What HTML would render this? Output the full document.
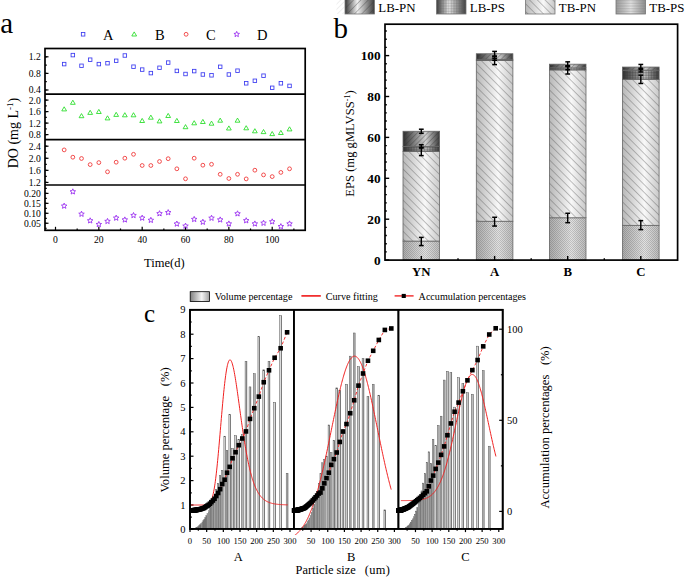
<!DOCTYPE html>
<html><head><meta charset="utf-8"><style>
html,body{margin:0;padding:0;background:#fff;}
svg{display:block;}
text{font-family:"Liberation Serif", serif;fill:#000;}
</style></head><body>
<svg width="685" height="578" viewBox="0 0 685 578">
<defs>
<linearGradient id="gL" x1="0" x2="1" y1="0" y2="0">
 <stop offset="0" stop-color="#b8b8b8"/><stop offset="0.6" stop-color="#f8f8f8"/><stop offset="1" stop-color="#c8c8c8"/></linearGradient>
<linearGradient id="gD" x1="0" x2="1" y1="0" y2="0">
 <stop offset="0" stop-color="#2e2e2e"/><stop offset="0.62" stop-color="#d0d0d0"/><stop offset="1" stop-color="#3a3a3a"/></linearGradient>
<linearGradient id="gV" x1="0" x2="1" y1="0" y2="0">
 <stop offset="0" stop-color="#808080"/><stop offset="0.6" stop-color="#f4f4f4"/><stop offset="1" stop-color="#a0a0a0"/></linearGradient>
<linearGradient id="gBar" x1="0" x2="1" y1="0" y2="0">
 <stop offset="0" stop-color="#a8a8a8"/><stop offset="0.4" stop-color="#e0e0e0"/><stop offset="0.72" stop-color="#a0a0a0"/><stop offset="1" stop-color="#505050"/></linearGradient>
<pattern id="pTBPN" width="5.5" height="5.5" patternUnits="userSpaceOnUse" patternTransform="rotate(-45)">
 <line x1="0" y1="0" x2="0" y2="5.5" stroke="#3a3a3a" stroke-width="0.6"/></pattern>
<pattern id="pLBPN" width="3.7" height="3.7" patternUnits="userSpaceOnUse" patternTransform="rotate(45)">
 <line x1="0" y1="0" x2="0" y2="3.7" stroke="#2a2a2a" stroke-width="0.6"/></pattern>
<pattern id="pLBPS" width="1.6" height="1.6" patternUnits="userSpaceOnUse">
 <path d="M0 0H1.6M0 0V1.6" stroke="#333" stroke-width="0.55" fill="none"/></pattern>
<pattern id="pTBPS" width="2" height="2" patternUnits="userSpaceOnUse">
 <rect x="0" y="0" width="1" height="1" fill="#000" fill-opacity="0.15"/><rect x="1" y="1" width="1" height="1" fill="#000" fill-opacity="0.15"/></pattern>
<linearGradient id="gS" x1="0" x2="1" y1="0" y2="0">
 <stop offset="0" stop-color="#acacac"/><stop offset="0.6" stop-color="#e2e2e2"/><stop offset="1" stop-color="#bcbcbc"/></linearGradient>
<linearGradient id="gLegD" x1="0" x2="1" y1="0" y2="0">
 <stop offset="0" stop-color="#383838"/><stop offset="0.42" stop-color="#f0f0f0"/><stop offset="1" stop-color="#3c3c3c"/></linearGradient>
<linearGradient id="gLegS" x1="0" x2="1" y1="0" y2="0">
 <stop offset="0" stop-color="#9a9a9a"/><stop offset="0.5" stop-color="#e4e4e4"/><stop offset="1" stop-color="#8e8e8e"/></linearGradient>
<pattern id="pLBPNl" width="5.2" height="5.2" patternUnits="userSpaceOnUse" patternTransform="rotate(45)">
 <line x1="0" y1="0" x2="0" y2="5.2" stroke="#333" stroke-width="0.6"/></pattern>
<pattern id="pLBPSl" width="1.6" height="1.6" patternUnits="userSpaceOnUse">
 <path d="M0 0H1.6M0 0V1.6" stroke="#555" stroke-width="0.35" fill="none"/></pattern>
<pattern id="pHl" width="2" height="1.6" patternUnits="userSpaceOnUse">
 <line x1="0" y1="0" x2="2" y2="0" stroke="#777" stroke-width="0.5"/></pattern>
<pattern id="pFaint" width="3.7" height="3.7" patternUnits="userSpaceOnUse" patternTransform="rotate(45)">
 <line x1="0" y1="0" x2="0" y2="3.7" stroke="#ccc" stroke-width="0.6"/></pattern>
</defs>
<line x1="45.00" y1="56.80" x2="46.80" y2="56.80" stroke="#000" stroke-width="1.2" />
<line x1="45.00" y1="65.10" x2="46.80" y2="65.10" stroke="#000" stroke-width="1.2" />
<line x1="45.00" y1="73.40" x2="46.80" y2="73.40" stroke="#000" stroke-width="1.2" />
<line x1="45.00" y1="81.70" x2="46.80" y2="81.70" stroke="#000" stroke-width="1.2" />
<line x1="45.00" y1="90.00" x2="46.80" y2="90.00" stroke="#000" stroke-width="1.2" />
<line x1="45.00" y1="56.80" x2="48.50" y2="56.80" stroke="#000" stroke-width="1.2" />
<text x="40.80" y="60.20" font-size="9.6" text-anchor="end" font-weight="normal" >1.2</text>
<line x1="45.00" y1="73.40" x2="48.50" y2="73.40" stroke="#000" stroke-width="1.2" />
<text x="40.80" y="76.80" font-size="9.6" text-anchor="end" font-weight="normal" >0.8</text>
<line x1="45.00" y1="90.00" x2="48.50" y2="90.00" stroke="#000" stroke-width="1.2" />
<text x="40.80" y="93.40" font-size="9.6" text-anchor="end" font-weight="normal" >0.4</text>
<line x1="45.00" y1="100.10" x2="46.80" y2="100.10" stroke="#000" stroke-width="1.2" />
<line x1="45.00" y1="105.85" x2="46.80" y2="105.85" stroke="#000" stroke-width="1.2" />
<line x1="45.00" y1="111.60" x2="46.80" y2="111.60" stroke="#000" stroke-width="1.2" />
<line x1="45.00" y1="117.35" x2="46.80" y2="117.35" stroke="#000" stroke-width="1.2" />
<line x1="45.00" y1="123.10" x2="46.80" y2="123.10" stroke="#000" stroke-width="1.2" />
<line x1="45.00" y1="128.85" x2="46.80" y2="128.85" stroke="#000" stroke-width="1.2" />
<line x1="45.00" y1="134.60" x2="46.80" y2="134.60" stroke="#000" stroke-width="1.2" />
<line x1="45.00" y1="100.10" x2="48.50" y2="100.10" stroke="#000" stroke-width="1.2" />
<text x="40.80" y="103.50" font-size="9.6" text-anchor="end" font-weight="normal" >2.0</text>
<line x1="45.00" y1="111.60" x2="48.50" y2="111.60" stroke="#000" stroke-width="1.2" />
<text x="40.80" y="115.00" font-size="9.6" text-anchor="end" font-weight="normal" >1.6</text>
<line x1="45.00" y1="123.10" x2="48.50" y2="123.10" stroke="#000" stroke-width="1.2" />
<text x="40.80" y="126.50" font-size="9.6" text-anchor="end" font-weight="normal" >1.2</text>
<line x1="45.00" y1="134.60" x2="48.50" y2="134.60" stroke="#000" stroke-width="1.2" />
<text x="40.80" y="138.00" font-size="9.6" text-anchor="end" font-weight="normal" >0.8</text>
<line x1="45.00" y1="146.20" x2="46.80" y2="146.20" stroke="#000" stroke-width="1.2" />
<line x1="45.00" y1="152.24" x2="46.80" y2="152.24" stroke="#000" stroke-width="1.2" />
<line x1="45.00" y1="158.28" x2="46.80" y2="158.28" stroke="#000" stroke-width="1.2" />
<line x1="45.00" y1="164.32" x2="46.80" y2="164.32" stroke="#000" stroke-width="1.2" />
<line x1="45.00" y1="170.36" x2="46.80" y2="170.36" stroke="#000" stroke-width="1.2" />
<line x1="45.00" y1="176.40" x2="46.80" y2="176.40" stroke="#000" stroke-width="1.2" />
<line x1="45.00" y1="182.44" x2="46.80" y2="182.44" stroke="#000" stroke-width="1.2" />
<line x1="45.00" y1="146.20" x2="48.50" y2="146.20" stroke="#000" stroke-width="1.2" />
<text x="40.80" y="149.60" font-size="9.6" text-anchor="end" font-weight="normal" >2.4</text>
<line x1="45.00" y1="158.28" x2="48.50" y2="158.28" stroke="#000" stroke-width="1.2" />
<text x="40.80" y="161.68" font-size="9.6" text-anchor="end" font-weight="normal" >2.0</text>
<line x1="45.00" y1="170.36" x2="48.50" y2="170.36" stroke="#000" stroke-width="1.2" />
<text x="40.80" y="173.76" font-size="9.6" text-anchor="end" font-weight="normal" >1.6</text>
<line x1="45.00" y1="182.44" x2="48.50" y2="182.44" stroke="#000" stroke-width="1.2" />
<text x="40.80" y="185.84" font-size="9.6" text-anchor="end" font-weight="normal" >1.2</text>
<line x1="45.00" y1="188.43" x2="46.80" y2="188.43" stroke="#000" stroke-width="1.2" />
<line x1="45.00" y1="193.40" x2="46.80" y2="193.40" stroke="#000" stroke-width="1.2" />
<line x1="45.00" y1="198.38" x2="46.80" y2="198.38" stroke="#000" stroke-width="1.2" />
<line x1="45.00" y1="203.35" x2="46.80" y2="203.35" stroke="#000" stroke-width="1.2" />
<line x1="45.00" y1="208.33" x2="46.80" y2="208.33" stroke="#000" stroke-width="1.2" />
<line x1="45.00" y1="213.30" x2="46.80" y2="213.30" stroke="#000" stroke-width="1.2" />
<line x1="45.00" y1="218.28" x2="46.80" y2="218.28" stroke="#000" stroke-width="1.2" />
<line x1="45.00" y1="223.25" x2="46.80" y2="223.25" stroke="#000" stroke-width="1.2" />
<line x1="45.00" y1="228.23" x2="46.80" y2="228.23" stroke="#000" stroke-width="1.2" />
<line x1="45.00" y1="193.40" x2="48.50" y2="193.40" stroke="#000" stroke-width="1.2" />
<text x="40.80" y="196.80" font-size="9.6" text-anchor="end" font-weight="normal" >0.20</text>
<line x1="45.00" y1="203.35" x2="48.50" y2="203.35" stroke="#000" stroke-width="1.2" />
<text x="40.80" y="206.75" font-size="9.6" text-anchor="end" font-weight="normal" >0.15</text>
<line x1="45.00" y1="213.30" x2="48.50" y2="213.30" stroke="#000" stroke-width="1.2" />
<text x="40.80" y="216.70" font-size="9.6" text-anchor="end" font-weight="normal" >0.10</text>
<line x1="45.00" y1="223.25" x2="48.50" y2="223.25" stroke="#000" stroke-width="1.2" />
<text x="40.80" y="226.65" font-size="9.6" text-anchor="end" font-weight="normal" >0.05</text>
<line x1="55.50" y1="230.30" x2="55.50" y2="226.80" stroke="#000" stroke-width="1.2" />
<text x="55.50" y="243.20" font-size="9.6" text-anchor="middle" font-weight="normal" >0</text>
<line x1="77.17" y1="230.30" x2="77.17" y2="228.50" stroke="#000" stroke-width="1.2" />
<line x1="98.84" y1="230.30" x2="98.84" y2="226.80" stroke="#000" stroke-width="1.2" />
<text x="98.84" y="243.20" font-size="9.6" text-anchor="middle" font-weight="normal" >20</text>
<line x1="120.51" y1="230.30" x2="120.51" y2="228.50" stroke="#000" stroke-width="1.2" />
<line x1="142.18" y1="230.30" x2="142.18" y2="226.80" stroke="#000" stroke-width="1.2" />
<text x="142.18" y="243.20" font-size="9.6" text-anchor="middle" font-weight="normal" >40</text>
<line x1="163.85" y1="230.30" x2="163.85" y2="228.50" stroke="#000" stroke-width="1.2" />
<line x1="185.52" y1="230.30" x2="185.52" y2="226.80" stroke="#000" stroke-width="1.2" />
<text x="185.52" y="243.20" font-size="9.6" text-anchor="middle" font-weight="normal" >60</text>
<line x1="207.19" y1="230.30" x2="207.19" y2="228.50" stroke="#000" stroke-width="1.2" />
<line x1="228.86" y1="230.30" x2="228.86" y2="226.80" stroke="#000" stroke-width="1.2" />
<text x="228.86" y="243.20" font-size="9.6" text-anchor="middle" font-weight="normal" >80</text>
<line x1="250.53" y1="230.30" x2="250.53" y2="228.50" stroke="#000" stroke-width="1.2" />
<line x1="272.20" y1="230.30" x2="272.20" y2="226.80" stroke="#000" stroke-width="1.2" />
<text x="272.20" y="243.20" font-size="9.6" text-anchor="middle" font-weight="normal" >100</text>
<line x1="293.87" y1="230.30" x2="293.87" y2="228.50" stroke="#000" stroke-width="1.2" />
<rect x="45.0" y="48.5" width="260.2" height="181.8" fill="none" stroke="#000" stroke-width="1.7"/>
<line x1="45.00" y1="94.10" x2="305.20" y2="94.10" stroke="#000" stroke-width="1.7" />
<line x1="45.00" y1="139.70" x2="305.20" y2="139.70" stroke="#000" stroke-width="1.7" />
<line x1="45.00" y1="185.00" x2="305.20" y2="185.00" stroke="#000" stroke-width="1.7" />
<rect x="62.42" y="62.35" width="3.5" height="3.5" fill="none" stroke="#3b3bf0" stroke-width="0.85"/>
<rect x="71.09" y="53.35" width="3.5" height="3.5" fill="none" stroke="#3b3bf0" stroke-width="0.85"/>
<rect x="79.75" y="64.05" width="3.5" height="3.5" fill="none" stroke="#3b3bf0" stroke-width="0.85"/>
<rect x="88.42" y="57.95" width="3.5" height="3.5" fill="none" stroke="#3b3bf0" stroke-width="0.85"/>
<rect x="97.09" y="62.35" width="3.5" height="3.5" fill="none" stroke="#3b3bf0" stroke-width="0.85"/>
<rect x="105.76" y="61.45" width="3.5" height="3.5" fill="none" stroke="#3b3bf0" stroke-width="0.85"/>
<rect x="114.43" y="59.05" width="3.5" height="3.5" fill="none" stroke="#3b3bf0" stroke-width="0.85"/>
<rect x="123.09" y="53.75" width="3.5" height="3.5" fill="none" stroke="#3b3bf0" stroke-width="0.85"/>
<rect x="131.76" y="64.95" width="3.5" height="3.5" fill="none" stroke="#3b3bf0" stroke-width="0.85"/>
<rect x="140.43" y="67.85" width="3.5" height="3.5" fill="none" stroke="#3b3bf0" stroke-width="0.85"/>
<rect x="149.10" y="71.35" width="3.5" height="3.5" fill="none" stroke="#3b3bf0" stroke-width="0.85"/>
<rect x="157.77" y="66.05" width="3.5" height="3.5" fill="none" stroke="#3b3bf0" stroke-width="0.85"/>
<rect x="166.43" y="60.85" width="3.5" height="3.5" fill="none" stroke="#3b3bf0" stroke-width="0.85"/>
<rect x="175.10" y="69.15" width="3.5" height="3.5" fill="none" stroke="#3b3bf0" stroke-width="0.85"/>
<rect x="183.77" y="72.25" width="3.5" height="3.5" fill="none" stroke="#3b3bf0" stroke-width="0.85"/>
<rect x="192.44" y="69.35" width="3.5" height="3.5" fill="none" stroke="#3b3bf0" stroke-width="0.85"/>
<rect x="201.11" y="72.75" width="3.5" height="3.5" fill="none" stroke="#3b3bf0" stroke-width="0.85"/>
<rect x="209.77" y="73.55" width="3.5" height="3.5" fill="none" stroke="#3b3bf0" stroke-width="0.85"/>
<rect x="218.44" y="65.05" width="3.5" height="3.5" fill="none" stroke="#3b3bf0" stroke-width="0.85"/>
<rect x="227.11" y="72.75" width="3.5" height="3.5" fill="none" stroke="#3b3bf0" stroke-width="0.85"/>
<rect x="235.78" y="68.95" width="3.5" height="3.5" fill="none" stroke="#3b3bf0" stroke-width="0.85"/>
<rect x="244.45" y="81.55" width="3.5" height="3.5" fill="none" stroke="#3b3bf0" stroke-width="0.85"/>
<rect x="253.11" y="79.05" width="3.5" height="3.5" fill="none" stroke="#3b3bf0" stroke-width="0.85"/>
<rect x="261.78" y="73.95" width="3.5" height="3.5" fill="none" stroke="#3b3bf0" stroke-width="0.85"/>
<rect x="270.45" y="86.05" width="3.5" height="3.5" fill="none" stroke="#3b3bf0" stroke-width="0.85"/>
<rect x="279.12" y="81.55" width="3.5" height="3.5" fill="none" stroke="#3b3bf0" stroke-width="0.85"/>
<rect x="287.79" y="84.15" width="3.5" height="3.5" fill="none" stroke="#3b3bf0" stroke-width="0.85"/>
<path d="M64.17 106.80L66.57 110.90L61.77 110.90Z" fill="none" stroke="#22dd22" stroke-width="0.85"/>
<path d="M72.84 100.20L75.24 104.30L70.44 104.30Z" fill="none" stroke="#22dd22" stroke-width="0.85"/>
<path d="M81.50 113.60L83.90 117.70L79.10 117.70Z" fill="none" stroke="#22dd22" stroke-width="0.85"/>
<path d="M90.17 110.30L92.57 114.40L87.77 114.40Z" fill="none" stroke="#22dd22" stroke-width="0.85"/>
<path d="M98.84 109.40L101.24 113.50L96.44 113.50Z" fill="none" stroke="#22dd22" stroke-width="0.85"/>
<path d="M107.51 115.80L109.91 119.90L105.11 119.90Z" fill="none" stroke="#22dd22" stroke-width="0.85"/>
<path d="M116.18 112.30L118.58 116.40L113.78 116.40Z" fill="none" stroke="#22dd22" stroke-width="0.85"/>
<path d="M124.84 112.70L127.24 116.80L122.44 116.80Z" fill="none" stroke="#22dd22" stroke-width="0.85"/>
<path d="M133.51 112.70L135.91 116.80L131.11 116.80Z" fill="none" stroke="#22dd22" stroke-width="0.85"/>
<path d="M142.18 118.40L144.58 122.50L139.78 122.50Z" fill="none" stroke="#22dd22" stroke-width="0.85"/>
<path d="M150.85 115.10L153.25 119.20L148.45 119.20Z" fill="none" stroke="#22dd22" stroke-width="0.85"/>
<path d="M159.52 118.80L161.92 122.90L157.12 122.90Z" fill="none" stroke="#22dd22" stroke-width="0.85"/>
<path d="M168.18 113.40L170.58 117.50L165.78 117.50Z" fill="none" stroke="#22dd22" stroke-width="0.85"/>
<path d="M176.85 118.40L179.25 122.50L174.45 122.50Z" fill="none" stroke="#22dd22" stroke-width="0.85"/>
<path d="M185.52 124.60L187.92 128.70L183.12 128.70Z" fill="none" stroke="#22dd22" stroke-width="0.85"/>
<path d="M194.19 120.70L196.59 124.80L191.79 124.80Z" fill="none" stroke="#22dd22" stroke-width="0.85"/>
<path d="M202.86 119.40L205.26 123.50L200.46 123.50Z" fill="none" stroke="#22dd22" stroke-width="0.85"/>
<path d="M211.52 121.10L213.92 125.20L209.12 125.20Z" fill="none" stroke="#22dd22" stroke-width="0.85"/>
<path d="M220.19 118.10L222.59 122.20L217.79 122.20Z" fill="none" stroke="#22dd22" stroke-width="0.85"/>
<path d="M228.86 125.90L231.26 130.00L226.46 130.00Z" fill="none" stroke="#22dd22" stroke-width="0.85"/>
<path d="M237.53 118.10L239.93 122.20L235.13 122.20Z" fill="none" stroke="#22dd22" stroke-width="0.85"/>
<path d="M246.20 125.70L248.60 129.80L243.80 129.80Z" fill="none" stroke="#22dd22" stroke-width="0.85"/>
<path d="M254.86 128.70L257.26 132.80L252.46 132.80Z" fill="none" stroke="#22dd22" stroke-width="0.85"/>
<path d="M263.53 129.50L265.93 133.60L261.13 133.60Z" fill="none" stroke="#22dd22" stroke-width="0.85"/>
<path d="M272.20 131.50L274.60 135.60L269.80 135.60Z" fill="none" stroke="#22dd22" stroke-width="0.85"/>
<path d="M280.87 130.40L283.27 134.50L278.47 134.50Z" fill="none" stroke="#22dd22" stroke-width="0.85"/>
<path d="M289.54 126.80L291.94 130.90L287.14 130.90Z" fill="none" stroke="#22dd22" stroke-width="0.85"/>
<circle cx="64.17" cy="149.90" r="1.9" fill="none" stroke="#f03030" stroke-width="0.85"/>
<circle cx="72.84" cy="157.20" r="1.9" fill="none" stroke="#f03030" stroke-width="0.85"/>
<circle cx="81.50" cy="158.50" r="1.9" fill="none" stroke="#f03030" stroke-width="0.85"/>
<circle cx="90.17" cy="164.60" r="1.9" fill="none" stroke="#f03030" stroke-width="0.85"/>
<circle cx="98.84" cy="162.60" r="1.9" fill="none" stroke="#f03030" stroke-width="0.85"/>
<circle cx="107.51" cy="171.80" r="1.9" fill="none" stroke="#f03030" stroke-width="0.85"/>
<circle cx="116.18" cy="162.20" r="1.9" fill="none" stroke="#f03030" stroke-width="0.85"/>
<circle cx="124.84" cy="158.20" r="1.9" fill="none" stroke="#f03030" stroke-width="0.85"/>
<circle cx="133.51" cy="154.30" r="1.9" fill="none" stroke="#f03030" stroke-width="0.85"/>
<circle cx="142.18" cy="165.50" r="1.9" fill="none" stroke="#f03030" stroke-width="0.85"/>
<circle cx="150.85" cy="165.50" r="1.9" fill="none" stroke="#f03030" stroke-width="0.85"/>
<circle cx="159.52" cy="161.50" r="1.9" fill="none" stroke="#f03030" stroke-width="0.85"/>
<circle cx="168.18" cy="158.70" r="1.9" fill="none" stroke="#f03030" stroke-width="0.85"/>
<circle cx="176.85" cy="168.80" r="1.9" fill="none" stroke="#f03030" stroke-width="0.85"/>
<circle cx="185.52" cy="178.80" r="1.9" fill="none" stroke="#f03030" stroke-width="0.85"/>
<circle cx="194.19" cy="158.20" r="1.9" fill="none" stroke="#f03030" stroke-width="0.85"/>
<circle cx="202.86" cy="165.20" r="1.9" fill="none" stroke="#f03030" stroke-width="0.85"/>
<circle cx="211.52" cy="164.30" r="1.9" fill="none" stroke="#f03030" stroke-width="0.85"/>
<circle cx="220.19" cy="174.30" r="1.9" fill="none" stroke="#f03030" stroke-width="0.85"/>
<circle cx="228.86" cy="178.50" r="1.9" fill="none" stroke="#f03030" stroke-width="0.85"/>
<circle cx="237.53" cy="174.30" r="1.9" fill="none" stroke="#f03030" stroke-width="0.85"/>
<circle cx="246.20" cy="178.90" r="1.9" fill="none" stroke="#f03030" stroke-width="0.85"/>
<circle cx="254.86" cy="170.20" r="1.9" fill="none" stroke="#f03030" stroke-width="0.85"/>
<circle cx="263.53" cy="174.90" r="1.9" fill="none" stroke="#f03030" stroke-width="0.85"/>
<circle cx="272.20" cy="176.60" r="1.9" fill="none" stroke="#f03030" stroke-width="0.85"/>
<circle cx="280.87" cy="172.40" r="1.9" fill="none" stroke="#f03030" stroke-width="0.85"/>
<circle cx="289.54" cy="168.80" r="1.9" fill="none" stroke="#f03030" stroke-width="0.85"/>
<polygon points="64.17,203.10 64.93,204.95 66.93,205.10 65.40,206.40 65.87,208.35 64.17,207.30 62.46,208.35 62.93,206.40 61.41,205.10 63.40,204.95" fill="none" stroke="#9b30f0" stroke-width="0.9"/>
<polygon points="72.84,188.80 73.60,190.65 75.59,190.80 74.07,192.10 74.54,194.05 72.84,193.00 71.13,194.05 71.60,192.10 70.08,190.80 72.07,190.65" fill="none" stroke="#9b30f0" stroke-width="0.9"/>
<polygon points="81.50,211.20 82.27,213.05 84.26,213.20 82.74,214.50 83.21,216.45 81.50,215.40 79.80,216.45 80.27,214.50 78.75,213.20 80.74,213.05" fill="none" stroke="#9b30f0" stroke-width="0.9"/>
<polygon points="90.17,217.80 90.94,219.65 92.93,219.80 91.41,221.10 91.88,223.05 90.17,222.00 88.47,223.05 88.94,221.10 87.41,219.80 89.41,219.65" fill="none" stroke="#9b30f0" stroke-width="0.9"/>
<polygon points="98.84,221.50 99.60,223.35 101.60,223.50 100.08,224.80 100.54,226.75 98.84,225.70 97.14,226.75 97.60,224.80 96.08,223.50 98.08,223.35" fill="none" stroke="#9b30f0" stroke-width="0.9"/>
<polygon points="107.51,218.40 108.27,220.25 110.27,220.40 108.74,221.70 109.21,223.65 107.51,222.60 105.80,223.65 106.27,221.70 104.75,220.40 106.74,220.25" fill="none" stroke="#9b30f0" stroke-width="0.9"/>
<polygon points="116.18,215.10 116.94,216.95 118.93,217.10 117.41,218.40 117.88,220.35 116.18,219.30 114.47,220.35 114.94,218.40 113.42,217.10 115.41,216.95" fill="none" stroke="#9b30f0" stroke-width="0.9"/>
<polygon points="124.84,216.90 125.61,218.75 127.60,218.90 126.08,220.20 126.55,222.15 124.84,221.10 123.14,222.15 123.61,220.20 122.09,218.90 124.08,218.75" fill="none" stroke="#9b30f0" stroke-width="0.9"/>
<polygon points="133.51,212.50 134.28,214.35 136.27,214.50 134.75,215.80 135.22,217.75 133.51,216.70 131.81,217.75 132.28,215.80 130.75,214.50 132.75,214.35" fill="none" stroke="#9b30f0" stroke-width="0.9"/>
<polygon points="142.18,215.10 142.94,216.95 144.94,217.10 143.42,218.40 143.88,220.35 142.18,219.30 140.48,220.35 140.94,218.40 139.42,217.10 141.42,216.95" fill="none" stroke="#9b30f0" stroke-width="0.9"/>
<polygon points="150.85,217.30 151.61,219.15 153.61,219.30 152.08,220.60 152.55,222.55 150.85,221.50 149.14,222.55 149.61,220.60 148.09,219.30 150.08,219.15" fill="none" stroke="#9b30f0" stroke-width="0.9"/>
<polygon points="159.52,210.70 160.28,212.55 162.27,212.70 160.75,214.00 161.22,215.95 159.52,214.90 157.81,215.95 158.28,214.00 156.76,212.70 158.75,212.55" fill="none" stroke="#9b30f0" stroke-width="0.9"/>
<polygon points="168.18,209.60 168.95,211.45 170.94,211.60 169.42,212.90 169.89,214.85 168.18,213.80 166.48,214.85 166.95,212.90 165.43,211.60 167.42,211.45" fill="none" stroke="#9b30f0" stroke-width="0.9"/>
<polygon points="176.85,221.00 177.62,222.85 179.61,223.00 178.09,224.30 178.56,226.25 176.85,225.20 175.15,226.25 175.62,224.30 174.09,223.00 176.09,222.85" fill="none" stroke="#9b30f0" stroke-width="0.9"/>
<polygon points="185.52,223.10 186.28,224.95 188.28,225.10 186.76,226.40 187.22,228.35 185.52,227.30 183.82,228.35 184.28,226.40 182.76,225.10 184.76,224.95" fill="none" stroke="#9b30f0" stroke-width="0.9"/>
<polygon points="194.19,216.40 194.95,218.25 196.95,218.40 195.42,219.70 195.89,221.65 194.19,220.60 192.48,221.65 192.95,219.70 191.43,218.40 193.42,218.25" fill="none" stroke="#9b30f0" stroke-width="0.9"/>
<polygon points="202.86,219.20 203.62,221.05 205.61,221.20 204.09,222.50 204.56,224.45 202.86,223.40 201.15,224.45 201.62,222.50 200.10,221.20 202.09,221.05" fill="none" stroke="#9b30f0" stroke-width="0.9"/>
<polygon points="211.52,215.20 212.29,217.05 214.28,217.20 212.76,218.50 213.23,220.45 211.52,219.40 209.82,220.45 210.29,218.50 208.77,217.20 210.76,217.05" fill="none" stroke="#9b30f0" stroke-width="0.9"/>
<polygon points="220.19,216.90 220.96,218.75 222.95,218.90 221.43,220.20 221.90,222.15 220.19,221.10 218.49,222.15 218.96,220.20 217.43,218.90 219.43,218.75" fill="none" stroke="#9b30f0" stroke-width="0.9"/>
<polygon points="228.86,220.90 229.62,222.75 231.62,222.90 230.10,224.20 230.56,226.15 228.86,225.10 227.16,226.15 227.62,224.20 226.10,222.90 228.10,222.75" fill="none" stroke="#9b30f0" stroke-width="0.9"/>
<polygon points="237.53,210.80 238.29,212.65 240.29,212.80 238.76,214.10 239.23,216.05 237.53,215.00 235.82,216.05 236.29,214.10 234.77,212.80 236.76,212.65" fill="none" stroke="#9b30f0" stroke-width="0.9"/>
<polygon points="246.20,217.70 246.96,219.55 248.95,219.70 247.43,221.00 247.90,222.95 246.20,221.90 244.49,222.95 244.96,221.00 243.44,219.70 245.43,219.55" fill="none" stroke="#9b30f0" stroke-width="0.9"/>
<polygon points="254.86,220.90 255.63,222.75 257.62,222.90 256.10,224.20 256.57,226.15 254.86,225.10 253.16,226.15 253.63,224.20 252.11,222.90 254.10,222.75" fill="none" stroke="#9b30f0" stroke-width="0.9"/>
<polygon points="263.53,220.20 264.30,222.05 266.29,222.20 264.77,223.50 265.24,225.45 263.53,224.40 261.83,225.45 262.30,223.50 260.77,222.20 262.77,222.05" fill="none" stroke="#9b30f0" stroke-width="0.9"/>
<polygon points="272.20,218.80 272.96,220.65 274.96,220.80 273.44,222.10 273.90,224.05 272.20,223.00 270.50,224.05 270.96,222.10 269.44,220.80 271.44,220.65" fill="none" stroke="#9b30f0" stroke-width="0.9"/>
<polygon points="280.87,223.60 281.63,225.45 283.63,225.60 282.10,226.90 282.57,228.85 280.87,227.80 279.16,228.85 279.63,226.90 278.11,225.60 280.10,225.45" fill="none" stroke="#9b30f0" stroke-width="0.9"/>
<polygon points="289.54,220.90 290.30,222.75 292.29,222.90 290.77,224.20 291.24,226.15 289.54,225.10 287.83,226.15 288.30,224.20 286.78,222.90 288.77,222.75" fill="none" stroke="#9b30f0" stroke-width="0.9"/>
<rect x="81.35" y="32.55" width="3.5" height="3.5" fill="none" stroke="#3b3bf0" stroke-width="0.85"/>
<path d="M134.20 31.90L136.60 36.00L131.80 36.00Z" fill="none" stroke="#22dd22" stroke-width="0.85"/>
<circle cx="186.10" cy="34.30" r="1.9" fill="none" stroke="#f03030" stroke-width="0.85"/>
<polygon points="236.70,31.40 237.46,33.25 239.46,33.40 237.94,34.70 238.40,36.65 236.70,35.60 235.00,36.65 235.46,34.70 233.94,33.40 235.94,33.25" fill="none" stroke="#9b30f0" stroke-width="0.9"/>
<text x="103.00" y="39.60" font-size="14.5" text-anchor="start" font-weight="normal" >A</text>
<text x="155.00" y="39.60" font-size="14.5" text-anchor="start" font-weight="normal" >B</text>
<text x="206.00" y="39.60" font-size="14.5" text-anchor="start" font-weight="normal" >C</text>
<text x="257.00" y="39.60" font-size="14.5" text-anchor="start" font-weight="normal" >D</text>
<text x="0.30" y="32.50" font-size="29" text-anchor="start" font-weight="normal" >a</text>
<text x="164.30" y="266.50" font-size="12.5" text-anchor="middle" font-weight="normal" >Time(d)</text>
<text transform="translate(17.6,168.3) rotate(-90)" font-size="14">DO (mg L<tspan font-size="9" dy="-4.4">-1</tspan><tspan dy="4.4">)</tspan></text>
<line x1="385.00" y1="260.10" x2="389.20" y2="260.10" stroke="#000" stroke-width="1.4" />
<text x="380.60" y="264.60" font-size="13.3" text-anchor="end" font-weight="bold" >0</text>
<line x1="385.00" y1="251.92" x2="386.80" y2="251.92" stroke="#000" stroke-width="1.4" />
<line x1="385.00" y1="243.74" x2="386.80" y2="243.74" stroke="#000" stroke-width="1.4" />
<line x1="385.00" y1="235.56" x2="386.80" y2="235.56" stroke="#000" stroke-width="1.4" />
<line x1="385.00" y1="227.38" x2="386.80" y2="227.38" stroke="#000" stroke-width="1.4" />
<line x1="385.00" y1="219.20" x2="389.20" y2="219.20" stroke="#000" stroke-width="1.4" />
<text x="380.60" y="223.70" font-size="13.3" text-anchor="end" font-weight="bold" >20</text>
<line x1="385.00" y1="211.02" x2="386.80" y2="211.02" stroke="#000" stroke-width="1.4" />
<line x1="385.00" y1="202.84" x2="386.80" y2="202.84" stroke="#000" stroke-width="1.4" />
<line x1="385.00" y1="194.66" x2="386.80" y2="194.66" stroke="#000" stroke-width="1.4" />
<line x1="385.00" y1="186.48" x2="386.80" y2="186.48" stroke="#000" stroke-width="1.4" />
<line x1="385.00" y1="178.30" x2="389.20" y2="178.30" stroke="#000" stroke-width="1.4" />
<text x="380.60" y="182.80" font-size="13.3" text-anchor="end" font-weight="bold" >40</text>
<line x1="385.00" y1="170.12" x2="386.80" y2="170.12" stroke="#000" stroke-width="1.4" />
<line x1="385.00" y1="161.94" x2="386.80" y2="161.94" stroke="#000" stroke-width="1.4" />
<line x1="385.00" y1="153.76" x2="386.80" y2="153.76" stroke="#000" stroke-width="1.4" />
<line x1="385.00" y1="145.58" x2="386.80" y2="145.58" stroke="#000" stroke-width="1.4" />
<line x1="385.00" y1="137.40" x2="389.20" y2="137.40" stroke="#000" stroke-width="1.4" />
<text x="380.60" y="141.90" font-size="13.3" text-anchor="end" font-weight="bold" >60</text>
<line x1="385.00" y1="129.22" x2="386.80" y2="129.22" stroke="#000" stroke-width="1.4" />
<line x1="385.00" y1="121.04" x2="386.80" y2="121.04" stroke="#000" stroke-width="1.4" />
<line x1="385.00" y1="112.86" x2="386.80" y2="112.86" stroke="#000" stroke-width="1.4" />
<line x1="385.00" y1="104.68" x2="386.80" y2="104.68" stroke="#000" stroke-width="1.4" />
<line x1="385.00" y1="96.50" x2="389.20" y2="96.50" stroke="#000" stroke-width="1.4" />
<text x="380.60" y="101.00" font-size="13.3" text-anchor="end" font-weight="bold" >80</text>
<line x1="385.00" y1="88.32" x2="386.80" y2="88.32" stroke="#000" stroke-width="1.4" />
<line x1="385.00" y1="80.14" x2="386.80" y2="80.14" stroke="#000" stroke-width="1.4" />
<line x1="385.00" y1="71.96" x2="386.80" y2="71.96" stroke="#000" stroke-width="1.4" />
<line x1="385.00" y1="63.78" x2="386.80" y2="63.78" stroke="#000" stroke-width="1.4" />
<line x1="385.00" y1="55.60" x2="389.20" y2="55.60" stroke="#000" stroke-width="1.4" />
<text x="380.60" y="60.10" font-size="13.3" text-anchor="end" font-weight="bold" >100</text>
<line x1="385.00" y1="47.42" x2="386.80" y2="47.42" stroke="#000" stroke-width="1.4" />
<line x1="385.00" y1="39.24" x2="386.80" y2="39.24" stroke="#000" stroke-width="1.4" />
<line x1="385.00" y1="31.06" x2="386.80" y2="31.06" stroke="#000" stroke-width="1.4" />
<rect x="403.00" y="241.08" width="36.6" height="19.02" fill="url(#gS)"/>
<rect x="403.00" y="241.08" width="36.6" height="19.02" fill="url(#pTBPS)" stroke="#666" stroke-width="0.8"/>
<rect x="403.00" y="151.51" width="36.6" height="89.57" fill="url(#gL)"/>
<rect x="403.00" y="151.51" width="36.6" height="89.57" fill="url(#pTBPN)" stroke="#666" stroke-width="0.8"/>
<rect x="403.00" y="146.40" width="36.6" height="5.11" fill="url(#gD)"/>
<rect x="403.00" y="146.40" width="36.6" height="5.11" fill="url(#pLBPS)" stroke="#666" stroke-width="0.8"/>
<rect x="403.00" y="131.27" width="36.6" height="15.13" fill="url(#gD)"/>
<rect x="403.00" y="131.27" width="36.6" height="15.13" fill="url(#pLBPN)" stroke="#666" stroke-width="0.8"/>
<rect x="476.30" y="221.25" width="36.6" height="38.85" fill="url(#gS)"/>
<rect x="476.30" y="221.25" width="36.6" height="38.85" fill="url(#pTBPS)" stroke="#666" stroke-width="0.8"/>
<rect x="476.30" y="60.51" width="36.6" height="160.74" fill="url(#gL)"/>
<rect x="476.30" y="60.51" width="36.6" height="160.74" fill="url(#pTBPN)" stroke="#666" stroke-width="0.8"/>
<rect x="476.30" y="59.28" width="36.6" height="1.23" fill="url(#gD)"/>
<rect x="476.30" y="59.28" width="36.6" height="1.23" fill="url(#pLBPS)" stroke="#666" stroke-width="0.8"/>
<rect x="476.30" y="53.76" width="36.6" height="5.52" fill="url(#gD)"/>
<rect x="476.30" y="53.76" width="36.6" height="5.52" fill="url(#pLBPN)" stroke="#666" stroke-width="0.8"/>
<rect x="549.40" y="217.77" width="36.6" height="42.33" fill="url(#gS)"/>
<rect x="549.40" y="217.77" width="36.6" height="42.33" fill="url(#pTBPS)" stroke="#666" stroke-width="0.8"/>
<rect x="549.40" y="69.92" width="36.6" height="147.85" fill="url(#gL)"/>
<rect x="549.40" y="69.92" width="36.6" height="147.85" fill="url(#pTBPN)" stroke="#666" stroke-width="0.8"/>
<rect x="549.40" y="67.87" width="36.6" height="2.04" fill="url(#gD)"/>
<rect x="549.40" y="67.87" width="36.6" height="2.04" fill="url(#pLBPS)" stroke="#666" stroke-width="0.8"/>
<rect x="549.40" y="64.19" width="36.6" height="3.68" fill="url(#gD)"/>
<rect x="549.40" y="64.19" width="36.6" height="3.68" fill="url(#pLBPN)" stroke="#666" stroke-width="0.8"/>
<rect x="622.50" y="225.34" width="36.6" height="34.76" fill="url(#gS)"/>
<rect x="622.50" y="225.34" width="36.6" height="34.76" fill="url(#pTBPS)" stroke="#666" stroke-width="0.8"/>
<rect x="622.50" y="79.32" width="36.6" height="146.01" fill="url(#gL)"/>
<rect x="622.50" y="79.32" width="36.6" height="146.01" fill="url(#pTBPN)" stroke="#666" stroke-width="0.8"/>
<rect x="622.50" y="70.12" width="36.6" height="9.20" fill="url(#gD)"/>
<rect x="622.50" y="70.12" width="36.6" height="9.20" fill="url(#pLBPS)" stroke="#666" stroke-width="0.8"/>
<rect x="622.50" y="67.05" width="36.6" height="3.07" fill="url(#gD)"/>
<rect x="622.50" y="67.05" width="36.6" height="3.07" fill="url(#pLBPN)" stroke="#666" stroke-width="0.8"/>
<line x1="421.30" y1="237.40" x2="421.30" y2="245.58" stroke="#000" stroke-width="1.4" />
<line x1="418.90" y1="237.40" x2="423.70" y2="237.40" stroke="#000" stroke-width="1.5" />
<line x1="418.90" y1="245.58" x2="423.70" y2="245.58" stroke="#000" stroke-width="1.5" />
<line x1="421.30" y1="147.42" x2="421.30" y2="155.60" stroke="#000" stroke-width="1.4" />
<line x1="418.90" y1="147.42" x2="423.70" y2="147.42" stroke="#000" stroke-width="1.5" />
<line x1="418.90" y1="155.60" x2="423.70" y2="155.60" stroke="#000" stroke-width="1.5" />
<line x1="421.30" y1="144.76" x2="421.30" y2="148.03" stroke="#000" stroke-width="1.4" />
<line x1="418.90" y1="144.76" x2="423.70" y2="144.76" stroke="#000" stroke-width="1.5" />
<line x1="418.90" y1="148.03" x2="423.70" y2="148.03" stroke="#000" stroke-width="1.5" />
<line x1="421.30" y1="129.22" x2="421.30" y2="133.31" stroke="#000" stroke-width="1.4" />
<line x1="418.90" y1="129.22" x2="423.70" y2="129.22" stroke="#000" stroke-width="1.5" />
<line x1="418.90" y1="133.31" x2="423.70" y2="133.31" stroke="#000" stroke-width="1.5" />
<line x1="494.60" y1="217.26" x2="494.60" y2="226.05" stroke="#000" stroke-width="1.4" />
<line x1="492.20" y1="217.26" x2="497.00" y2="217.26" stroke="#000" stroke-width="1.5" />
<line x1="492.20" y1="226.05" x2="497.00" y2="226.05" stroke="#000" stroke-width="1.5" />
<line x1="494.60" y1="56.42" x2="494.60" y2="64.60" stroke="#000" stroke-width="1.4" />
<line x1="492.20" y1="56.42" x2="497.00" y2="56.42" stroke="#000" stroke-width="1.5" />
<line x1="492.20" y1="64.60" x2="497.00" y2="64.60" stroke="#000" stroke-width="1.5" />
<line x1="494.60" y1="58.26" x2="494.60" y2="60.30" stroke="#000" stroke-width="1.4" />
<line x1="492.20" y1="58.26" x2="497.00" y2="58.26" stroke="#000" stroke-width="1.5" />
<line x1="492.20" y1="60.30" x2="497.00" y2="60.30" stroke="#000" stroke-width="1.5" />
<line x1="494.60" y1="51.41" x2="494.60" y2="56.11" stroke="#000" stroke-width="1.4" />
<line x1="492.20" y1="51.41" x2="497.00" y2="51.41" stroke="#000" stroke-width="1.5" />
<line x1="492.20" y1="56.11" x2="497.00" y2="56.11" stroke="#000" stroke-width="1.5" />
<line x1="567.70" y1="213.27" x2="567.70" y2="222.68" stroke="#000" stroke-width="1.4" />
<line x1="565.30" y1="213.27" x2="570.10" y2="213.27" stroke="#000" stroke-width="1.5" />
<line x1="565.30" y1="222.68" x2="570.10" y2="222.68" stroke="#000" stroke-width="1.5" />
<line x1="567.70" y1="65.83" x2="567.70" y2="74.01" stroke="#000" stroke-width="1.4" />
<line x1="565.30" y1="65.83" x2="570.10" y2="65.83" stroke="#000" stroke-width="1.5" />
<line x1="565.30" y1="74.01" x2="570.10" y2="74.01" stroke="#000" stroke-width="1.5" />
<line x1="567.70" y1="66.03" x2="567.70" y2="69.71" stroke="#000" stroke-width="1.4" />
<line x1="565.30" y1="66.03" x2="570.10" y2="66.03" stroke="#000" stroke-width="1.5" />
<line x1="565.30" y1="69.71" x2="570.10" y2="69.71" stroke="#000" stroke-width="1.5" />
<line x1="567.70" y1="61.84" x2="567.70" y2="66.54" stroke="#000" stroke-width="1.4" />
<line x1="565.30" y1="61.84" x2="570.10" y2="61.84" stroke="#000" stroke-width="1.5" />
<line x1="565.30" y1="66.54" x2="570.10" y2="66.54" stroke="#000" stroke-width="1.5" />
<line x1="640.80" y1="220.63" x2="640.80" y2="229.63" stroke="#000" stroke-width="1.4" />
<line x1="638.40" y1="220.63" x2="643.20" y2="220.63" stroke="#000" stroke-width="1.5" />
<line x1="638.40" y1="229.63" x2="643.20" y2="229.63" stroke="#000" stroke-width="1.5" />
<line x1="640.80" y1="75.17" x2="640.80" y2="83.47" stroke="#000" stroke-width="1.4" />
<line x1="638.40" y1="75.17" x2="643.20" y2="75.17" stroke="#000" stroke-width="1.5" />
<line x1="638.40" y1="83.47" x2="643.20" y2="83.47" stroke="#000" stroke-width="1.5" />
<line x1="640.80" y1="68.28" x2="640.80" y2="71.96" stroke="#000" stroke-width="1.4" />
<line x1="638.40" y1="68.28" x2="643.20" y2="68.28" stroke="#000" stroke-width="1.5" />
<line x1="638.40" y1="71.96" x2="643.20" y2="71.96" stroke="#000" stroke-width="1.5" />
<line x1="640.80" y1="64.45" x2="640.80" y2="69.65" stroke="#000" stroke-width="1.4" />
<line x1="638.40" y1="64.45" x2="643.20" y2="64.45" stroke="#000" stroke-width="1.5" />
<line x1="638.40" y1="69.65" x2="643.20" y2="69.65" stroke="#000" stroke-width="1.5" />
<line x1="421.30" y1="260.10" x2="421.30" y2="255.90" stroke="#000" stroke-width="1.4" />
<text x="421.30" y="275.80" font-size="12.8" text-anchor="middle" font-weight="bold" >YN</text>
<line x1="494.60" y1="260.10" x2="494.60" y2="255.90" stroke="#000" stroke-width="1.4" />
<text x="494.60" y="275.80" font-size="12.8" text-anchor="middle" font-weight="bold" >A</text>
<line x1="567.70" y1="260.10" x2="567.70" y2="255.90" stroke="#000" stroke-width="1.4" />
<text x="567.70" y="275.80" font-size="12.8" text-anchor="middle" font-weight="bold" >B</text>
<line x1="640.80" y1="260.10" x2="640.80" y2="255.90" stroke="#000" stroke-width="1.4" />
<text x="640.80" y="275.80" font-size="12.8" text-anchor="middle" font-weight="bold" >C</text>
<line x1="458.00" y1="260.10" x2="458.00" y2="258.30" stroke="#000" stroke-width="1.4" />
<line x1="531.20" y1="260.10" x2="531.20" y2="258.30" stroke="#000" stroke-width="1.4" />
<line x1="604.30" y1="260.10" x2="604.30" y2="258.30" stroke="#000" stroke-width="1.4" />
<rect x="385.0" y="24.2" width="292.6" height="235.90000000000003" fill="none" stroke="#000" stroke-width="1.7"/>
<text x="333.50" y="37.50" font-size="29" text-anchor="start" font-weight="normal" >b</text>
<text transform="translate(354.3,196.7) rotate(-90)" font-size="12.6">EPS (mg gMLVSS<tspan font-size="8" dy="-4.5">-1</tspan><tspan dy="4.5">)</tspan></text>
<rect x="336.5" y="-1" width="8" height="15" fill="url(#pFaint)"/>
<rect x="345.0" y="-1" width="29.5" height="15" fill="url(#gLegD)"/>
<rect x="345.0" y="-1" width="29.5" height="15" fill="url(#pLBPNl)" stroke="#777" stroke-width="0.8"/>
<text x="378.30" y="11.80" font-size="12.9" text-anchor="start" font-weight="normal" >LB-PN</text>
<rect x="436.5" y="-1" width="29.5" height="15" fill="url(#gLegD)"/>
<rect x="436.5" y="-1" width="29.5" height="15" fill="url(#pLBPSl)" stroke="#777" stroke-width="0.8"/>
<text x="469.80" y="11.80" font-size="12.9" text-anchor="start" font-weight="normal" >LB-PS</text>
<rect x="525.5" y="-1" width="29.5" height="15" fill="url(#gL)"/>
<rect x="525.5" y="-1" width="29.5" height="15" fill="url(#pTBPN)" stroke="#777" stroke-width="0.8"/>
<text x="558.80" y="11.80" font-size="12.9" text-anchor="start" font-weight="normal" >TB-PN</text>
<rect x="616.0" y="-1" width="29.5" height="15" fill="url(#gLegS)"/>
<rect x="616.0" y="-1" width="29.5" height="15" fill="url(#pHl)" stroke="#777" stroke-width="0.8"/>
<text x="649.30" y="11.80" font-size="12.9" text-anchor="start" font-weight="normal" >TB-PS</text>
<line x1="190.00" y1="529.40" x2="193.50" y2="529.40" stroke="#000" stroke-width="1.2" />
<text x="185.50" y="533.00" font-size="10.5" text-anchor="end" font-weight="normal" >0</text>
<line x1="190.00" y1="517.20" x2="191.80" y2="517.20" stroke="#000" stroke-width="1.2" />
<line x1="190.00" y1="505.00" x2="193.50" y2="505.00" stroke="#000" stroke-width="1.2" />
<text x="185.50" y="508.60" font-size="10.5" text-anchor="end" font-weight="normal" >1</text>
<line x1="190.00" y1="492.80" x2="191.80" y2="492.80" stroke="#000" stroke-width="1.2" />
<line x1="190.00" y1="480.60" x2="193.50" y2="480.60" stroke="#000" stroke-width="1.2" />
<text x="185.50" y="484.20" font-size="10.5" text-anchor="end" font-weight="normal" >2</text>
<line x1="190.00" y1="468.40" x2="191.80" y2="468.40" stroke="#000" stroke-width="1.2" />
<line x1="190.00" y1="456.20" x2="193.50" y2="456.20" stroke="#000" stroke-width="1.2" />
<text x="185.50" y="459.80" font-size="10.5" text-anchor="end" font-weight="normal" >3</text>
<line x1="190.00" y1="444.00" x2="191.80" y2="444.00" stroke="#000" stroke-width="1.2" />
<line x1="190.00" y1="431.80" x2="193.50" y2="431.80" stroke="#000" stroke-width="1.2" />
<text x="185.50" y="435.40" font-size="10.5" text-anchor="end" font-weight="normal" >4</text>
<line x1="190.00" y1="419.60" x2="191.80" y2="419.60" stroke="#000" stroke-width="1.2" />
<line x1="190.00" y1="407.40" x2="193.50" y2="407.40" stroke="#000" stroke-width="1.2" />
<text x="185.50" y="411.00" font-size="10.5" text-anchor="end" font-weight="normal" >5</text>
<line x1="190.00" y1="395.20" x2="191.80" y2="395.20" stroke="#000" stroke-width="1.2" />
<line x1="190.00" y1="383.00" x2="193.50" y2="383.00" stroke="#000" stroke-width="1.2" />
<text x="185.50" y="386.60" font-size="10.5" text-anchor="end" font-weight="normal" >6</text>
<line x1="190.00" y1="370.80" x2="191.80" y2="370.80" stroke="#000" stroke-width="1.2" />
<line x1="190.00" y1="358.60" x2="193.50" y2="358.60" stroke="#000" stroke-width="1.2" />
<text x="185.50" y="362.20" font-size="10.5" text-anchor="end" font-weight="normal" >7</text>
<line x1="190.00" y1="346.40" x2="191.80" y2="346.40" stroke="#000" stroke-width="1.2" />
<line x1="190.00" y1="334.20" x2="193.50" y2="334.20" stroke="#000" stroke-width="1.2" />
<text x="185.50" y="337.80" font-size="10.5" text-anchor="end" font-weight="normal" >8</text>
<line x1="190.00" y1="322.00" x2="191.80" y2="322.00" stroke="#000" stroke-width="1.2" />
<line x1="190.00" y1="309.80" x2="193.50" y2="309.80" stroke="#000" stroke-width="1.2" />
<text x="185.50" y="313.40" font-size="10.5" text-anchor="end" font-weight="normal" >9</text>
<line x1="502.70" y1="511.40" x2="499.20" y2="511.40" stroke="#000" stroke-width="1.2" />
<text x="507.00" y="515.00" font-size="10.5" text-anchor="start" font-weight="normal" >0</text>
<line x1="502.70" y1="420.30" x2="499.20" y2="420.30" stroke="#000" stroke-width="1.2" />
<text x="507.00" y="423.90" font-size="10.5" text-anchor="start" font-weight="normal" >50</text>
<line x1="502.70" y1="329.20" x2="499.20" y2="329.20" stroke="#000" stroke-width="1.2" />
<text x="507.00" y="332.80" font-size="10.5" text-anchor="start" font-weight="normal" >100</text>
<line x1="502.70" y1="465.85" x2="500.90" y2="465.85" stroke="#000" stroke-width="1.2" />
<line x1="502.70" y1="374.75" x2="500.90" y2="374.75" stroke="#000" stroke-width="1.2" />
<line x1="190.00" y1="528.90" x2="190.00" y2="532.10" stroke="#000" stroke-width="1.2" />
<text x="190.00" y="544.00" font-size="8.6" text-anchor="middle" font-weight="normal" >0</text>
<line x1="198.33" y1="528.90" x2="198.33" y2="530.70" stroke="#000" stroke-width="1.2" />
<line x1="206.67" y1="528.90" x2="206.67" y2="532.10" stroke="#000" stroke-width="1.2" />
<text x="206.67" y="544.00" font-size="8.6" text-anchor="middle" font-weight="normal" >50</text>
<line x1="215.00" y1="528.90" x2="215.00" y2="530.70" stroke="#000" stroke-width="1.2" />
<line x1="223.33" y1="528.90" x2="223.33" y2="532.10" stroke="#000" stroke-width="1.2" />
<text x="223.33" y="544.00" font-size="8.6" text-anchor="middle" font-weight="normal" >100</text>
<line x1="231.67" y1="528.90" x2="231.67" y2="530.70" stroke="#000" stroke-width="1.2" />
<line x1="240.00" y1="528.90" x2="240.00" y2="532.10" stroke="#000" stroke-width="1.2" />
<text x="240.00" y="544.00" font-size="8.6" text-anchor="middle" font-weight="normal" >150</text>
<line x1="248.33" y1="528.90" x2="248.33" y2="530.70" stroke="#000" stroke-width="1.2" />
<line x1="256.67" y1="528.90" x2="256.67" y2="532.10" stroke="#000" stroke-width="1.2" />
<text x="256.67" y="544.00" font-size="8.6" text-anchor="middle" font-weight="normal" >200</text>
<line x1="265.00" y1="528.90" x2="265.00" y2="530.70" stroke="#000" stroke-width="1.2" />
<line x1="273.33" y1="528.90" x2="273.33" y2="532.10" stroke="#000" stroke-width="1.2" />
<text x="273.33" y="544.00" font-size="8.6" text-anchor="middle" font-weight="normal" >250</text>
<line x1="281.67" y1="528.90" x2="281.67" y2="530.70" stroke="#000" stroke-width="1.2" />
<line x1="290.00" y1="528.90" x2="290.00" y2="532.10" stroke="#000" stroke-width="1.2" />
<text x="290.00" y="544.00" font-size="8.6" text-anchor="middle" font-weight="normal" >300</text>
<line x1="302.73" y1="528.90" x2="302.73" y2="530.70" stroke="#000" stroke-width="1.2" />
<line x1="311.07" y1="528.90" x2="311.07" y2="532.10" stroke="#000" stroke-width="1.2" />
<text x="311.07" y="544.00" font-size="8.6" text-anchor="middle" font-weight="normal" >50</text>
<line x1="319.40" y1="528.90" x2="319.40" y2="530.70" stroke="#000" stroke-width="1.2" />
<line x1="327.73" y1="528.90" x2="327.73" y2="532.10" stroke="#000" stroke-width="1.2" />
<text x="327.73" y="544.00" font-size="8.6" text-anchor="middle" font-weight="normal" >100</text>
<line x1="336.07" y1="528.90" x2="336.07" y2="530.70" stroke="#000" stroke-width="1.2" />
<line x1="344.40" y1="528.90" x2="344.40" y2="532.10" stroke="#000" stroke-width="1.2" />
<text x="344.40" y="544.00" font-size="8.6" text-anchor="middle" font-weight="normal" >150</text>
<line x1="352.73" y1="528.90" x2="352.73" y2="530.70" stroke="#000" stroke-width="1.2" />
<line x1="361.07" y1="528.90" x2="361.07" y2="532.10" stroke="#000" stroke-width="1.2" />
<text x="361.07" y="544.00" font-size="8.6" text-anchor="middle" font-weight="normal" >200</text>
<line x1="369.40" y1="528.90" x2="369.40" y2="530.70" stroke="#000" stroke-width="1.2" />
<line x1="377.73" y1="528.90" x2="377.73" y2="532.10" stroke="#000" stroke-width="1.2" />
<text x="377.73" y="544.00" font-size="8.6" text-anchor="middle" font-weight="normal" >250</text>
<line x1="386.07" y1="528.90" x2="386.07" y2="530.70" stroke="#000" stroke-width="1.2" />
<line x1="394.40" y1="528.90" x2="394.40" y2="532.10" stroke="#000" stroke-width="1.2" />
<text x="394.40" y="544.00" font-size="8.6" text-anchor="middle" font-weight="normal" >300</text>
<line x1="407.13" y1="528.90" x2="407.13" y2="530.70" stroke="#000" stroke-width="1.2" />
<line x1="415.47" y1="528.90" x2="415.47" y2="532.10" stroke="#000" stroke-width="1.2" />
<text x="415.47" y="544.00" font-size="8.6" text-anchor="middle" font-weight="normal" >50</text>
<line x1="423.80" y1="528.90" x2="423.80" y2="530.70" stroke="#000" stroke-width="1.2" />
<line x1="432.13" y1="528.90" x2="432.13" y2="532.10" stroke="#000" stroke-width="1.2" />
<text x="432.13" y="544.00" font-size="8.6" text-anchor="middle" font-weight="normal" >100</text>
<line x1="440.47" y1="528.90" x2="440.47" y2="530.70" stroke="#000" stroke-width="1.2" />
<line x1="448.80" y1="528.90" x2="448.80" y2="532.10" stroke="#000" stroke-width="1.2" />
<text x="448.80" y="544.00" font-size="8.6" text-anchor="middle" font-weight="normal" >150</text>
<line x1="457.13" y1="528.90" x2="457.13" y2="530.70" stroke="#000" stroke-width="1.2" />
<line x1="465.47" y1="528.90" x2="465.47" y2="532.10" stroke="#000" stroke-width="1.2" />
<text x="465.47" y="544.00" font-size="8.6" text-anchor="middle" font-weight="normal" >200</text>
<line x1="473.80" y1="528.90" x2="473.80" y2="530.70" stroke="#000" stroke-width="1.2" />
<line x1="482.13" y1="528.90" x2="482.13" y2="532.10" stroke="#000" stroke-width="1.2" />
<text x="482.13" y="544.00" font-size="8.6" text-anchor="middle" font-weight="normal" >250</text>
<line x1="490.47" y1="528.90" x2="490.47" y2="530.70" stroke="#000" stroke-width="1.2" />
<line x1="498.80" y1="528.90" x2="498.80" y2="532.10" stroke="#000" stroke-width="1.2" />
<text x="498.80" y="544.00" font-size="8.6" text-anchor="middle" font-weight="normal" >300</text>
<rect x="190.0" y="309.8" width="312.7" height="219.09999999999997" fill="none" stroke="#000" stroke-width="1.7"/>
<line x1="293.90" y1="309.80" x2="293.90" y2="528.90" stroke="#000" stroke-width="1.7" />
<line x1="398.40" y1="309.80" x2="398.40" y2="528.90" stroke="#000" stroke-width="1.7" />
<text x="238.30" y="561.30" font-size="12.5" text-anchor="middle" font-weight="normal" >A</text>
<text x="351.20" y="561.00" font-size="12.5" text-anchor="middle" font-weight="normal" >B</text>
<text x="465.50" y="561.00" font-size="12.5" text-anchor="middle" font-weight="normal" >C</text>
<text x="295.60" y="573.80" font-size="12.4" text-anchor="start" font-weight="normal" >Particle size</text>
<text x="364.70" y="573.80" font-size="12.4" text-anchor="start" font-weight="normal" letter-spacing="0.4">(um)</text>
<text x="144.00" y="322.00" font-size="25" text-anchor="start" font-weight="normal" >c</text>
<text transform="translate(168.8,492.6) rotate(-90)" font-size="12.6">Volume percentage</text>
<text transform="translate(168.8,386.3) rotate(-90)" font-size="12.6">(%)</text>
<text transform="translate(548.9,508.6) rotate(-90)" font-size="12.6">Accumulation percentages</text>
<text transform="translate(548.9,365.1) rotate(-90)" font-size="12.6">(%)</text>
<rect x="190.2" y="291.7" width="19.2" height="9.8" fill="url(#gV)" stroke="#000" stroke-width="0.8"/>
<text x="214.70" y="300.00" font-size="10.15" text-anchor="start" font-weight="normal" >Volume percentage</text>
<line x1="301.40" y1="295.90" x2="320.80" y2="295.90" stroke="#f01818" stroke-width="1.6" />
<text x="325.80" y="300.00" font-size="10.15" text-anchor="start" font-weight="normal" >Curve fitting</text>
<line x1="394.60" y1="295.90" x2="413.60" y2="295.90" stroke="#f01818" stroke-width="1.3" />
<rect x="401.7" y="293.9" width="4.1" height="4.1" fill="#000"/>
<text x="418.60" y="300.00" font-size="10.1" text-anchor="start" font-weight="normal" >Accumulation percentages</text>
<clipPath id="clipC"><rect x="190.0" y="309.8" width="312.7" height="225.09999999999997"/></clipPath>
<g clip-path="url(#clipC)">
<rect x="193.50" y="528.91" width="0.15" height="-0.01" fill="url(#gBar)" stroke="#505050" stroke-width="0.45"/>
<rect x="193.75" y="528.83" width="0.16" height="0.07" fill="url(#gBar)" stroke="#505050" stroke-width="0.45"/>
<rect x="194.02" y="528.73" width="0.17" height="0.17" fill="url(#gBar)" stroke="#505050" stroke-width="0.45"/>
<rect x="194.31" y="528.62" width="0.18" height="0.28" fill="url(#gBar)" stroke="#505050" stroke-width="0.45"/>
<rect x="194.61" y="528.50" width="0.19" height="0.40" fill="url(#gBar)" stroke="#505050" stroke-width="0.45"/>
<rect x="194.94" y="528.35" width="0.21" height="0.55" fill="url(#gBar)" stroke="#505050" stroke-width="0.45"/>
<rect x="195.29" y="528.18" width="0.22" height="0.72" fill="url(#gBar)" stroke="#505050" stroke-width="0.45"/>
<rect x="195.67" y="527.98" width="0.24" height="0.92" fill="url(#gBar)" stroke="#505050" stroke-width="0.45"/>
<rect x="196.07" y="527.75" width="0.26" height="1.15" fill="url(#gBar)" stroke="#505050" stroke-width="0.45"/>
<rect x="196.50" y="527.48" width="0.27" height="1.42" fill="url(#gBar)" stroke="#505050" stroke-width="0.45"/>
<rect x="196.97" y="527.16" width="0.29" height="1.74" fill="url(#gBar)" stroke="#505050" stroke-width="0.45"/>
<rect x="197.46" y="526.80" width="0.31" height="2.10" fill="url(#gBar)" stroke="#505050" stroke-width="0.45"/>
<rect x="197.99" y="526.37" width="0.34" height="2.53" fill="url(#gBar)" stroke="#505050" stroke-width="0.45"/>
<rect x="198.56" y="525.88" width="0.36" height="3.02" fill="url(#gBar)" stroke="#505050" stroke-width="0.45"/>
<rect x="199.17" y="525.30" width="0.39" height="3.60" fill="url(#gBar)" stroke="#505050" stroke-width="0.45"/>
<rect x="199.83" y="524.63" width="0.41" height="4.27" fill="url(#gBar)" stroke="#505050" stroke-width="0.45"/>
<rect x="200.53" y="523.85" width="0.44" height="5.05" fill="url(#gBar)" stroke="#505050" stroke-width="0.45"/>
<rect x="201.28" y="522.95" width="0.48" height="5.95" fill="url(#gBar)" stroke="#505050" stroke-width="0.45"/>
<rect x="202.08" y="521.89" width="0.51" height="7.01" fill="url(#gBar)" stroke="#505050" stroke-width="0.45"/>
<rect x="202.94" y="520.67" width="0.55" height="8.23" fill="url(#gBar)" stroke="#505050" stroke-width="0.45"/>
<rect x="203.86" y="519.24" width="0.58" height="9.66" fill="url(#gBar)" stroke="#505050" stroke-width="0.45"/>
<rect x="204.85" y="517.58" width="0.63" height="11.32" fill="url(#gBar)" stroke="#505050" stroke-width="0.45"/>
<rect x="205.90" y="515.65" width="0.67" height="13.25" fill="url(#gBar)" stroke="#505050" stroke-width="0.45"/>
<rect x="207.04" y="513.40" width="0.72" height="15.50" fill="url(#gBar)" stroke="#505050" stroke-width="0.45"/>
<rect x="208.25" y="510.79" width="0.77" height="18.11" fill="url(#gBar)" stroke="#505050" stroke-width="0.45"/>
<rect x="209.55" y="507.75" width="0.82" height="21.15" fill="url(#gBar)" stroke="#505050" stroke-width="0.45"/>
<rect x="210.94" y="504.21" width="0.88" height="24.69" fill="url(#gBar)" stroke="#505050" stroke-width="0.45"/>
<rect x="212.43" y="500.09" width="0.95" height="28.81" fill="url(#gBar)" stroke="#505050" stroke-width="0.45"/>
<rect x="214.03" y="495.31" width="1.01" height="33.59" fill="url(#gBar)" stroke="#505050" stroke-width="0.45"/>
<rect x="215.74" y="489.74" width="1.09" height="39.16" fill="url(#gBar)" stroke="#505050" stroke-width="0.45"/>
<rect x="217.57" y="483.26" width="1.16" height="45.64" fill="url(#gBar)" stroke="#505050" stroke-width="0.45"/>
<rect x="219.54" y="475.72" width="1.25" height="53.18" fill="url(#gBar)" stroke="#505050" stroke-width="0.45"/>
<rect x="221.64" y="470.60" width="1.33" height="58.30" fill="url(#gBar)" stroke="#505050" stroke-width="0.45"/>
<rect x="223.89" y="436.19" width="1.43" height="92.71" fill="url(#gBar)" stroke="#505050" stroke-width="0.45"/>
<rect x="226.31" y="450.59" width="1.53" height="78.31" fill="url(#gBar)" stroke="#505050" stroke-width="0.45"/>
<rect x="228.89" y="414.48" width="1.64" height="114.42" fill="url(#gBar)" stroke="#505050" stroke-width="0.45"/>
<rect x="231.66" y="448.39" width="1.76" height="80.51" fill="url(#gBar)" stroke="#505050" stroke-width="0.45"/>
<rect x="234.64" y="435.70" width="1.85" height="93.20" fill="url(#gBar)" stroke="#505050" stroke-width="0.45"/>
<rect x="237.89" y="439.36" width="1.85" height="89.54" fill="url(#gBar)" stroke="#505050" stroke-width="0.45"/>
<rect x="241.36" y="434.73" width="1.85" height="94.17" fill="url(#gBar)" stroke="#505050" stroke-width="0.45"/>
<rect x="245.08" y="361.28" width="1.85" height="167.62" fill="url(#gBar)" stroke="#505050" stroke-width="0.45"/>
<rect x="249.07" y="386.90" width="1.85" height="142.00" fill="url(#gBar)" stroke="#505050" stroke-width="0.45"/>
<rect x="253.34" y="373.73" width="1.85" height="155.17" fill="url(#gBar)" stroke="#505050" stroke-width="0.45"/>
<rect x="257.92" y="336.64" width="1.85" height="192.26" fill="url(#gBar)" stroke="#505050" stroke-width="0.45"/>
<rect x="262.82" y="369.82" width="1.85" height="159.08" fill="url(#gBar)" stroke="#505050" stroke-width="0.45"/>
<rect x="268.07" y="361.28" width="1.85" height="167.62" fill="url(#gBar)" stroke="#505050" stroke-width="0.45"/>
<rect x="273.70" y="402.28" width="1.85" height="126.62" fill="url(#gBar)" stroke="#505050" stroke-width="0.45"/>
<rect x="279.72" y="315.66" width="1.85" height="213.24" fill="url(#gBar)" stroke="#505050" stroke-width="0.45"/>
<rect x="286.18" y="473.28" width="1.85" height="55.62" fill="url(#gBar)" stroke="#505050" stroke-width="0.45"/>
<polyline points="191.00,505.00 191.33,505.00 191.67,505.00 192.00,505.00 192.33,505.00 192.67,505.00 193.00,505.00 193.33,505.00 193.67,505.00 194.00,505.00 194.33,505.00 194.67,505.00 195.00,505.00 195.33,505.00 195.67,505.00 196.00,505.00 196.33,505.00 196.67,505.00 197.00,505.00 197.33,505.00 197.67,505.00 198.00,505.00 198.33,505.00 198.67,505.00 199.00,505.00 199.33,505.00 199.67,505.00 200.00,505.00 200.33,505.00 200.67,505.00 201.00,505.00 201.33,505.00 201.67,505.00 202.00,505.00 202.33,505.00 202.67,505.00 203.00,505.00 203.33,505.00 203.67,504.99 204.00,504.99 204.33,504.98 204.67,504.98 205.00,504.97 205.33,504.95 205.67,504.93 206.00,504.90 206.33,504.86 206.67,504.81 207.00,504.75 207.33,504.66 207.67,504.56 208.00,504.43 208.33,504.26 208.67,504.06 209.00,503.82 209.33,503.52 209.67,503.17 210.00,502.76 210.33,502.27 210.67,501.70 211.00,501.05 211.33,500.30 211.67,499.44 212.00,498.48 212.33,497.39 212.67,496.18 213.00,494.83 213.33,493.34 213.67,491.71 214.00,489.93 214.33,487.99 214.67,485.91 215.00,483.66 215.33,481.26 215.67,478.71 216.00,476.01 216.33,473.15 216.67,470.16 217.00,467.02 217.33,463.76 217.67,460.38 218.00,456.88 218.33,453.29 218.67,449.60 219.00,445.84 219.33,442.01 219.67,438.14 220.00,434.22 220.33,430.28 220.67,426.34 221.00,422.40 221.33,418.48 221.67,414.60 222.00,410.77 222.33,407.00 222.67,403.31 223.00,399.71 223.33,396.21 223.67,392.83 224.00,389.57 224.33,386.44 224.67,383.46 225.00,380.64 225.33,377.97 225.67,375.48 226.00,373.16 226.33,371.01 226.67,369.05 227.00,367.28 227.33,365.70 227.67,364.30 228.00,363.10 228.33,362.08 228.67,361.26 229.00,360.63 229.33,360.18 229.67,359.91 230.00,359.82 230.33,359.91 230.67,360.16 231.00,360.59 231.33,361.17 231.67,361.90 232.00,362.79 232.33,363.81 232.67,364.98 233.00,366.26 233.33,367.67 233.67,369.20 234.00,370.83 234.33,372.56 234.67,374.38 235.00,376.29 235.33,378.28 235.67,380.34 236.00,382.46 236.33,384.65 236.67,386.88 237.00,389.16 237.33,391.48 237.67,393.83 238.00,396.21 238.33,398.61 238.67,401.03 239.00,403.46 239.33,405.89 239.67,408.33 240.00,410.77 240.33,413.20 240.67,415.62 241.00,418.02 241.33,420.41 241.67,422.78 242.00,425.13 242.33,427.44 242.67,429.74 243.00,431.99 243.33,434.22 243.67,436.41 244.00,438.57 244.33,440.69 244.67,442.76 245.00,444.80 245.33,446.80 245.67,448.75 246.00,450.66 246.33,452.53 246.67,454.35 247.00,456.13 247.33,457.87 247.67,459.56 248.00,461.20 248.33,462.81 248.67,464.36 249.00,465.88 249.33,467.35 249.67,468.77 250.00,470.16 250.33,471.50 250.67,472.80 251.00,474.06 251.33,475.28 251.67,476.45 252.00,477.60 252.33,478.70 252.67,479.76 253.00,480.79 253.33,481.78 253.67,482.74 254.00,483.66 254.33,484.55 254.67,485.41 255.00,486.24 255.33,487.03 255.67,487.80 256.00,488.54 256.33,489.25 256.67,489.93 257.00,490.58 257.33,491.21 257.67,491.82 258.00,492.40 258.33,492.96 258.67,493.49 259.00,494.00 259.33,494.50 259.67,494.97 260.00,495.42 260.33,495.86 260.67,496.27 261.00,496.67 261.33,497.05 261.67,497.42 262.00,497.77 262.33,498.10 262.67,498.42 263.00,498.73 263.33,499.02 263.67,499.30 264.00,499.57 264.33,499.82 264.67,500.07 265.00,500.30 265.33,500.52 265.67,500.73 266.00,500.94 266.33,501.13 266.67,501.32 267.00,501.49 267.33,501.66 267.67,501.82 268.00,501.98 268.33,502.12 268.67,502.26 269.00,502.40 269.33,502.52 269.67,502.64 270.00,502.76 270.33,502.87 270.67,502.97 271.00,503.07 271.33,503.17 271.67,503.26 272.00,503.34 272.33,503.43 272.67,503.50 273.00,503.58 273.33,503.65 273.67,503.72 274.00,503.78 274.33,503.84 274.67,503.90 275.00,503.95 275.33,504.01 275.67,504.06 276.00,504.10 276.33,504.15 276.67,504.19 277.00,504.23 277.33,504.27 277.67,504.31 278.00,504.34 278.33,504.38 278.67,504.41 279.00,504.44 279.33,504.47 279.67,504.49 280.00,504.52 280.33,504.54 280.67,504.57 281.00,504.59 281.33,504.61 281.67,504.63 282.00,504.65 282.33,504.67 282.67,504.68 283.00,504.70 283.33,504.71 283.67,504.73 284.00,504.74 284.33,504.76 284.67,504.77 285.00,504.78 285.33,504.79 285.67,504.80 286.00,504.81 286.33,504.82 286.67,504.83 287.00,504.84 287.33,504.85 287.67,504.86" fill="none" stroke="#f02020" stroke-width="1.0"/>
<polyline points="287.10,332.30 280.65,348.26 274.62,357.75 269.00,370.30 263.75,382.22 258.84,396.61 254.27,408.24 250.00,418.88 246.01,431.43 242.29,438.50 238.81,445.22 235.57,452.22 232.54,458.27 229.71,466.85 227.07,472.74 224.61,479.70 222.31,484.09 220.16,489.17 218.15,492.96 216.28,496.03 214.54,498.75 212.91,500.51 211.38,502.15 209.96,503.69 208.63,504.82 207.40,505.67 206.24,506.47 205.16,507.21 204.15,507.90 203.21,508.23 202.33,508.53 201.51,508.80 200.75,509.06 200.03,509.29 199.37,509.43 198.74,509.54 198.16,509.66 197.62,509.76 197.11,509.86 196.64,509.95 196.20,509.99 195.79,510.04 195.40,510.08 195.04,510.12 194.71,510.16 194.40,510.19 194.10,510.22 193.83,510.25 193.58,510.28 193.34,510.31 193.12,510.32 192.91,510.34 192.72,510.36 192.54,510.37 192.37,510.39 192.21,510.40 192.06,510.41 191.93,510.42 191.80,510.43 191.68,510.44 191.57,510.45 191.46,510.46 191.37,510.47 191.27,510.48 191.19,510.48 191.11,510.49 191.04,510.49 190.97,510.49 190.90,510.49 190.84,510.49 190.79,510.49 190.74,510.49 190.69,510.49 190.64,510.49 190.60,510.49 190.56,510.49 190.52,510.49 190.49,510.49 190.45,510.49 190.42,510.49 190.40,510.49 190.37,510.49 190.35,510.49 190.32,510.49 190.30,510.49 190.28,510.49 190.26,510.49 190.24,510.49 190.23,510.49 190.21,510.49 190.20,510.49 190.19,510.49 190.17,510.49 190.16,510.49 190.15,510.49 190.14,510.49 190.13,510.49 190.12,510.49 190.11,510.49 190.11,510.49 190.10,510.49 190.09,510.49 190.09,510.49 190.08,510.49 190.08,510.49 190.07,510.49 190.07,510.49 190.06,510.49 190.06,510.49 190.05,510.49" fill="none" stroke="#f02020" stroke-width="0.9" stroke-dasharray="3,2"/>
<rect x="284.80" y="330.00" width="4.6" height="4.6" fill="#000"/>
<rect x="278.35" y="345.96" width="4.6" height="4.6" fill="#000"/>
<rect x="272.32" y="355.45" width="4.6" height="4.6" fill="#000"/>
<rect x="266.70" y="368.00" width="4.6" height="4.6" fill="#000"/>
<rect x="261.45" y="379.92" width="4.6" height="4.6" fill="#000"/>
<rect x="256.54" y="394.31" width="4.6" height="4.6" fill="#000"/>
<rect x="251.97" y="405.94" width="4.6" height="4.6" fill="#000"/>
<rect x="247.70" y="416.58" width="4.6" height="4.6" fill="#000"/>
<rect x="243.71" y="429.13" width="4.6" height="4.6" fill="#000"/>
<rect x="239.99" y="436.20" width="4.6" height="4.6" fill="#000"/>
<rect x="236.51" y="442.92" width="4.6" height="4.6" fill="#000"/>
<rect x="233.27" y="449.92" width="4.6" height="4.6" fill="#000"/>
<rect x="230.24" y="455.97" width="4.6" height="4.6" fill="#000"/>
<rect x="227.41" y="464.55" width="4.6" height="4.6" fill="#000"/>
<rect x="224.77" y="470.44" width="4.6" height="4.6" fill="#000"/>
<rect x="222.31" y="477.40" width="4.6" height="4.6" fill="#000"/>
<rect x="220.01" y="481.79" width="4.6" height="4.6" fill="#000"/>
<rect x="217.86" y="486.87" width="4.6" height="4.6" fill="#000"/>
<rect x="215.85" y="490.66" width="4.6" height="4.6" fill="#000"/>
<rect x="213.98" y="493.73" width="4.6" height="4.6" fill="#000"/>
<rect x="212.24" y="496.45" width="4.6" height="4.6" fill="#000"/>
<rect x="210.61" y="498.21" width="4.6" height="4.6" fill="#000"/>
<rect x="209.08" y="499.85" width="4.6" height="4.6" fill="#000"/>
<rect x="207.66" y="501.39" width="4.6" height="4.6" fill="#000"/>
<rect x="206.33" y="502.52" width="4.6" height="4.6" fill="#000"/>
<rect x="205.10" y="503.37" width="4.6" height="4.6" fill="#000"/>
<rect x="203.94" y="504.17" width="4.6" height="4.6" fill="#000"/>
<rect x="202.86" y="504.91" width="4.6" height="4.6" fill="#000"/>
<rect x="201.85" y="505.60" width="4.6" height="4.6" fill="#000"/>
<rect x="200.91" y="505.93" width="4.6" height="4.6" fill="#000"/>
<rect x="200.03" y="506.23" width="4.6" height="4.6" fill="#000"/>
<rect x="199.21" y="506.50" width="4.6" height="4.6" fill="#000"/>
<rect x="198.45" y="506.76" width="4.6" height="4.6" fill="#000"/>
<rect x="197.73" y="506.99" width="4.6" height="4.6" fill="#000"/>
<rect x="197.07" y="507.13" width="4.6" height="4.6" fill="#000"/>
<rect x="196.44" y="507.24" width="4.6" height="4.6" fill="#000"/>
<rect x="195.86" y="507.36" width="4.6" height="4.6" fill="#000"/>
<rect x="195.32" y="507.46" width="4.6" height="4.6" fill="#000"/>
<rect x="194.81" y="507.56" width="4.6" height="4.6" fill="#000"/>
<rect x="194.34" y="507.65" width="4.6" height="4.6" fill="#000"/>
<rect x="193.90" y="507.69" width="4.6" height="4.6" fill="#000"/>
<rect x="193.49" y="507.74" width="4.6" height="4.6" fill="#000"/>
<rect x="193.10" y="507.78" width="4.6" height="4.6" fill="#000"/>
<rect x="192.74" y="507.82" width="4.6" height="4.6" fill="#000"/>
<rect x="192.41" y="507.86" width="4.6" height="4.6" fill="#000"/>
<rect x="192.10" y="507.89" width="4.6" height="4.6" fill="#000"/>
<rect x="191.80" y="507.92" width="4.6" height="4.6" fill="#000"/>
<rect x="191.53" y="507.95" width="4.6" height="4.6" fill="#000"/>
<rect x="191.28" y="507.98" width="4.6" height="4.6" fill="#000"/>
<rect x="191.04" y="508.01" width="4.6" height="4.6" fill="#000"/>
<rect x="190.82" y="508.02" width="4.6" height="4.6" fill="#000"/>
<rect x="190.61" y="508.04" width="4.6" height="4.6" fill="#000"/>
<rect x="190.42" y="508.06" width="4.6" height="4.6" fill="#000"/>
<rect x="190.24" y="508.07" width="4.6" height="4.6" fill="#000"/>
<rect x="190.07" y="508.09" width="4.6" height="4.6" fill="#000"/>
<rect x="189.91" y="508.10" width="4.6" height="4.6" fill="#000"/>
<rect x="189.76" y="508.11" width="4.6" height="4.6" fill="#000"/>
<rect x="189.63" y="508.12" width="4.6" height="4.6" fill="#000"/>
<rect x="189.50" y="508.13" width="4.6" height="4.6" fill="#000"/>
<rect x="189.38" y="508.14" width="4.6" height="4.6" fill="#000"/>
<rect x="189.27" y="508.15" width="4.6" height="4.6" fill="#000"/>
<rect x="189.16" y="508.16" width="4.6" height="4.6" fill="#000"/>
<rect x="189.07" y="508.17" width="4.6" height="4.6" fill="#000"/>
<rect x="188.97" y="508.18" width="4.6" height="4.6" fill="#000"/>
<rect x="188.89" y="508.18" width="4.6" height="4.6" fill="#000"/>
<rect x="188.81" y="508.19" width="4.6" height="4.6" fill="#000"/>
<rect x="188.74" y="508.19" width="4.6" height="4.6" fill="#000"/>
<rect x="188.67" y="508.19" width="4.6" height="4.6" fill="#000"/>
<rect x="188.60" y="508.19" width="4.6" height="4.6" fill="#000"/>
<rect x="188.54" y="508.19" width="4.6" height="4.6" fill="#000"/>
<rect x="188.49" y="508.19" width="4.6" height="4.6" fill="#000"/>
<rect x="188.44" y="508.19" width="4.6" height="4.6" fill="#000"/>
<rect x="188.39" y="508.19" width="4.6" height="4.6" fill="#000"/>
<rect x="188.34" y="508.19" width="4.6" height="4.6" fill="#000"/>
<rect x="188.30" y="508.19" width="4.6" height="4.6" fill="#000"/>
<rect x="188.26" y="508.19" width="4.6" height="4.6" fill="#000"/>
<rect x="188.22" y="508.19" width="4.6" height="4.6" fill="#000"/>
<rect x="188.19" y="508.19" width="4.6" height="4.6" fill="#000"/>
<rect x="188.15" y="508.19" width="4.6" height="4.6" fill="#000"/>
<rect x="188.12" y="508.19" width="4.6" height="4.6" fill="#000"/>
<rect x="188.10" y="508.19" width="4.6" height="4.6" fill="#000"/>
<rect x="188.07" y="508.19" width="4.6" height="4.6" fill="#000"/>
<rect x="188.05" y="508.19" width="4.6" height="4.6" fill="#000"/>
<rect x="188.02" y="508.19" width="4.6" height="4.6" fill="#000"/>
<rect x="188.00" y="508.19" width="4.6" height="4.6" fill="#000"/>
<rect x="187.98" y="508.19" width="4.6" height="4.6" fill="#000"/>
<rect x="187.96" y="508.19" width="4.6" height="4.6" fill="#000"/>
<rect x="187.94" y="508.19" width="4.6" height="4.6" fill="#000"/>
<rect x="187.93" y="508.19" width="4.6" height="4.6" fill="#000"/>
<rect x="187.91" y="508.19" width="4.6" height="4.6" fill="#000"/>
<rect x="187.90" y="508.19" width="4.6" height="4.6" fill="#000"/>
<rect x="187.89" y="508.19" width="4.6" height="4.6" fill="#000"/>
<rect x="187.87" y="508.19" width="4.6" height="4.6" fill="#000"/>
<rect x="187.86" y="508.19" width="4.6" height="4.6" fill="#000"/>
<rect x="187.85" y="508.19" width="4.6" height="4.6" fill="#000"/>
<rect x="187.84" y="508.19" width="4.6" height="4.6" fill="#000"/>
<rect x="187.83" y="508.19" width="4.6" height="4.6" fill="#000"/>
<rect x="187.82" y="508.19" width="4.6" height="4.6" fill="#000"/>
<rect x="187.81" y="508.19" width="4.6" height="4.6" fill="#000"/>
<rect x="187.81" y="508.19" width="4.6" height="4.6" fill="#000"/>
<rect x="187.80" y="508.19" width="4.6" height="4.6" fill="#000"/>
<rect x="187.79" y="508.19" width="4.6" height="4.6" fill="#000"/>
<rect x="187.79" y="508.19" width="4.6" height="4.6" fill="#000"/>
<rect x="187.78" y="508.19" width="4.6" height="4.6" fill="#000"/>
<rect x="187.78" y="508.19" width="4.6" height="4.6" fill="#000"/>
<rect x="187.77" y="508.19" width="4.6" height="4.6" fill="#000"/>
<rect x="187.77" y="508.19" width="4.6" height="4.6" fill="#000"/>
<rect x="187.76" y="508.19" width="4.6" height="4.6" fill="#000"/>
<rect x="187.76" y="508.19" width="4.6" height="4.6" fill="#000"/>
<rect x="187.75" y="508.19" width="4.6" height="4.6" fill="#000"/>
<rect x="187.70" y="508.19" width="4.6" height="4.6" fill="#000"/>
<rect x="299.49" y="528.83" width="0.22" height="0.07" fill="url(#gBar)" stroke="#505050" stroke-width="0.45"/>
<rect x="299.87" y="528.70" width="0.24" height="0.20" fill="url(#gBar)" stroke="#505050" stroke-width="0.45"/>
<rect x="300.27" y="528.55" width="0.26" height="0.35" fill="url(#gBar)" stroke="#505050" stroke-width="0.45"/>
<rect x="300.70" y="528.36" width="0.27" height="0.54" fill="url(#gBar)" stroke="#505050" stroke-width="0.45"/>
<rect x="301.17" y="528.13" width="0.29" height="0.77" fill="url(#gBar)" stroke="#505050" stroke-width="0.45"/>
<rect x="301.66" y="527.85" width="0.31" height="1.05" fill="url(#gBar)" stroke="#505050" stroke-width="0.45"/>
<rect x="302.19" y="527.51" width="0.34" height="1.39" fill="url(#gBar)" stroke="#505050" stroke-width="0.45"/>
<rect x="302.76" y="527.09" width="0.36" height="1.81" fill="url(#gBar)" stroke="#505050" stroke-width="0.45"/>
<rect x="303.37" y="526.58" width="0.39" height="2.32" fill="url(#gBar)" stroke="#505050" stroke-width="0.45"/>
<rect x="304.03" y="525.96" width="0.41" height="2.94" fill="url(#gBar)" stroke="#505050" stroke-width="0.45"/>
<rect x="304.73" y="525.20" width="0.44" height="3.70" fill="url(#gBar)" stroke="#505050" stroke-width="0.45"/>
<rect x="305.48" y="524.28" width="0.48" height="4.62" fill="url(#gBar)" stroke="#505050" stroke-width="0.45"/>
<rect x="306.28" y="523.14" width="0.51" height="5.76" fill="url(#gBar)" stroke="#505050" stroke-width="0.45"/>
<rect x="307.14" y="521.76" width="0.55" height="7.14" fill="url(#gBar)" stroke="#505050" stroke-width="0.45"/>
<rect x="308.06" y="520.08" width="0.58" height="8.82" fill="url(#gBar)" stroke="#505050" stroke-width="0.45"/>
<rect x="309.05" y="518.02" width="0.63" height="10.88" fill="url(#gBar)" stroke="#505050" stroke-width="0.45"/>
<rect x="310.10" y="515.51" width="0.67" height="13.39" fill="url(#gBar)" stroke="#505050" stroke-width="0.45"/>
<rect x="311.24" y="512.44" width="0.72" height="16.46" fill="url(#gBar)" stroke="#505050" stroke-width="0.45"/>
<rect x="312.45" y="508.70" width="0.77" height="20.20" fill="url(#gBar)" stroke="#505050" stroke-width="0.45"/>
<rect x="313.75" y="504.13" width="0.82" height="24.77" fill="url(#gBar)" stroke="#505050" stroke-width="0.45"/>
<rect x="315.14" y="498.55" width="0.88" height="30.35" fill="url(#gBar)" stroke="#505050" stroke-width="0.45"/>
<rect x="316.63" y="491.74" width="0.95" height="37.16" fill="url(#gBar)" stroke="#505050" stroke-width="0.45"/>
<rect x="318.23" y="483.43" width="1.01" height="45.47" fill="url(#gBar)" stroke="#505050" stroke-width="0.45"/>
<rect x="319.94" y="473.28" width="1.09" height="55.62" fill="url(#gBar)" stroke="#505050" stroke-width="0.45"/>
<rect x="321.77" y="462.79" width="1.16" height="66.11" fill="url(#gBar)" stroke="#505050" stroke-width="0.45"/>
<rect x="323.74" y="459.62" width="1.25" height="69.28" fill="url(#gBar)" stroke="#505050" stroke-width="0.45"/>
<rect x="325.84" y="456.20" width="1.33" height="72.70" fill="url(#gBar)" stroke="#505050" stroke-width="0.45"/>
<rect x="328.09" y="424.97" width="1.43" height="103.93" fill="url(#gBar)" stroke="#505050" stroke-width="0.45"/>
<rect x="330.51" y="452.54" width="1.53" height="76.36" fill="url(#gBar)" stroke="#505050" stroke-width="0.45"/>
<rect x="333.09" y="440.34" width="1.64" height="88.56" fill="url(#gBar)" stroke="#505050" stroke-width="0.45"/>
<rect x="335.86" y="387.88" width="1.76" height="141.02" fill="url(#gBar)" stroke="#505050" stroke-width="0.45"/>
<rect x="338.84" y="390.32" width="1.85" height="138.58" fill="url(#gBar)" stroke="#505050" stroke-width="0.45"/>
<rect x="342.09" y="429.36" width="1.85" height="99.54" fill="url(#gBar)" stroke="#505050" stroke-width="0.45"/>
<rect x="345.56" y="384.22" width="1.85" height="144.68" fill="url(#gBar)" stroke="#505050" stroke-width="0.45"/>
<rect x="349.28" y="356.16" width="1.85" height="172.74" fill="url(#gBar)" stroke="#505050" stroke-width="0.45"/>
<rect x="353.27" y="332.98" width="1.85" height="195.92" fill="url(#gBar)" stroke="#505050" stroke-width="0.45"/>
<rect x="357.54" y="366.65" width="1.85" height="162.25" fill="url(#gBar)" stroke="#505050" stroke-width="0.45"/>
<rect x="362.12" y="358.60" width="1.85" height="170.30" fill="url(#gBar)" stroke="#505050" stroke-width="0.45"/>
<rect x="367.02" y="396.42" width="1.85" height="132.48" fill="url(#gBar)" stroke="#505050" stroke-width="0.45"/>
<rect x="372.27" y="384.22" width="1.85" height="144.68" fill="url(#gBar)" stroke="#505050" stroke-width="0.45"/>
<rect x="377.90" y="395.20" width="1.85" height="133.70" fill="url(#gBar)" stroke="#505050" stroke-width="0.45"/>
<rect x="383.92" y="509.88" width="1.85" height="19.02" fill="url(#gBar)" stroke="#505050" stroke-width="0.45"/>
<polyline points="294.20,535.66 294.53,535.43 294.87,535.19 295.20,534.95 295.53,534.69 295.87,534.43 296.20,534.16 296.53,533.89 296.87,533.60 297.20,533.30 297.53,533.00 297.87,532.69 298.20,532.36 298.53,532.03 298.87,531.69 299.20,531.33 299.53,530.97 299.87,530.60 300.20,530.21 300.53,529.82 300.87,529.41 301.20,528.99 301.53,528.56 301.87,528.12 302.20,527.67 302.53,527.20 302.87,526.73 303.20,526.24 303.53,525.73 303.87,525.22 304.20,524.69 304.53,524.14 304.87,523.59 305.20,523.01 305.53,522.43 305.87,521.83 306.20,521.22 306.53,520.59 306.87,519.95 307.20,519.29 307.53,518.62 307.87,517.93 308.20,517.22 308.53,516.50 308.87,515.77 309.20,515.02 309.53,514.25 309.87,513.47 310.20,512.67 310.53,511.85 310.87,511.02 311.20,510.17 311.53,509.30 311.87,508.42 312.20,507.51 312.53,506.60 312.87,505.66 313.20,504.71 313.53,503.74 313.87,502.75 314.20,501.75 314.53,500.73 314.87,499.69 315.20,498.63 315.53,497.56 315.87,496.47 316.20,495.36 316.53,494.23 316.87,493.09 317.20,491.93 317.53,490.76 317.87,489.56 318.20,488.35 318.53,487.12 318.87,485.88 319.20,484.62 319.53,483.34 319.87,482.05 320.20,480.74 320.53,479.42 320.87,478.08 321.20,476.72 321.53,475.35 321.87,473.97 322.20,472.57 322.53,471.15 322.87,469.73 323.20,468.28 323.53,466.83 323.87,465.36 324.20,463.88 324.53,462.39 324.87,460.89 325.20,459.38 325.53,457.85 325.87,456.31 326.20,454.77 326.53,453.21 326.87,451.65 327.20,450.08 327.53,448.50 327.87,446.91 328.20,445.32 328.53,443.72 328.87,442.11 329.20,440.50 329.53,438.88 329.87,437.26 330.20,435.64 330.53,434.01 330.87,432.38 331.20,430.75 331.53,429.12 331.87,427.49 332.20,425.87 332.53,424.24 332.87,422.61 333.20,420.99 333.53,419.37 333.87,417.75 334.20,416.14 334.53,414.54 334.87,412.94 335.20,411.35 335.53,409.77 335.87,408.20 336.20,406.63 336.53,405.08 336.87,403.53 337.20,402.00 337.53,400.49 337.87,398.98 338.20,397.49 338.53,396.01 338.87,394.55 339.20,393.11 339.53,391.69 339.87,390.28 340.20,388.89 340.53,387.52 340.87,386.17 341.20,384.84 341.53,383.54 341.87,382.25 342.20,380.99 342.53,379.76 342.87,378.55 343.20,377.36 343.53,376.20 343.87,375.07 344.20,373.96 344.53,372.88 344.87,371.84 345.20,370.82 345.53,369.83 345.87,368.87 346.20,367.94 346.53,367.04 346.87,366.18 347.20,365.35 347.53,364.55 347.87,363.79 348.20,363.06 348.53,362.36 348.87,361.70 349.20,361.08 349.53,360.49 349.87,359.94 350.20,359.42 350.53,358.94 350.87,358.50 351.20,358.10 351.53,357.73 351.87,357.40 352.20,357.11 352.53,356.86 352.87,356.65 353.20,356.47 353.53,356.34 353.87,356.24 354.20,356.18 354.53,356.16 354.87,356.18 355.20,356.24 355.53,356.34 355.87,356.47 356.20,356.65 356.53,356.86 356.87,357.11 357.20,357.40 357.53,357.73 357.87,358.10 358.20,358.50 358.53,358.94 358.87,359.42 359.20,359.94 359.53,360.49 359.87,361.08 360.20,361.70 360.53,362.36 360.87,363.06 361.20,363.79 361.53,364.55 361.87,365.35 362.20,366.18 362.53,367.04 362.87,367.94 363.20,368.87 363.53,369.83 363.87,370.82 364.20,371.84 364.53,372.88 364.87,373.96 365.20,375.07 365.53,376.20 365.87,377.36 366.20,378.55 366.53,379.76 366.87,380.99 367.20,382.25 367.53,383.54 367.87,384.84 368.20,386.17 368.53,387.52 368.87,388.89 369.20,390.28 369.53,391.69 369.87,393.11 370.20,394.55 370.53,396.01 370.87,397.49 371.20,398.98 371.53,400.49 371.87,402.00 372.20,403.53 372.53,405.08 372.87,406.63 373.20,408.20 373.53,409.77 373.87,411.35 374.20,412.94 374.53,414.54 374.87,416.14 375.20,417.75 375.53,419.37 375.87,420.99 376.20,422.61 376.53,424.24 376.87,425.87 377.20,427.49 377.53,429.12 377.87,430.75 378.20,432.38 378.53,434.01 378.87,435.64 379.20,437.26 379.53,438.88 379.87,440.50 380.20,442.11 380.53,443.72 380.87,445.32 381.20,446.91 381.53,448.50 381.87,450.08 382.20,451.65 382.53,453.21 382.87,454.77 383.20,456.31 383.53,457.85 383.87,459.38 384.20,460.89 384.53,462.39 384.87,463.88 385.20,465.36 385.53,466.83 385.87,468.28 386.20,469.73 386.53,471.15 386.87,472.57 387.20,473.97 387.53,475.35 387.87,476.72 388.20,478.08 388.53,479.42 388.87,480.74 389.20,482.05 389.53,483.34 389.87,484.62 390.20,485.88 390.53,487.12 390.87,488.35 391.20,489.56" fill="none" stroke="#f02020" stroke-width="1.0"/>
<polyline points="391.30,328.47 384.85,329.93 378.82,339.95 373.20,350.79 367.95,360.72 363.04,373.47 358.47,385.63 354.20,400.29 350.21,413.23 346.49,424.07 343.01,431.54 339.77,441.93 336.74,452.49 333.91,459.15 331.27,464.88 328.81,472.68 326.51,478.15 324.36,483.36 322.35,488.33 320.48,492.52 318.74,493.54 317.11,495.54 315.58,497.28 314.16,498.90 312.83,500.41 311.60,501.82 310.44,503.02 309.36,503.94 308.35,504.81 307.41,505.61 306.53,506.37 305.71,507.07 304.95,507.72 304.23,508.09 303.57,508.31 302.94,508.52 302.36,508.71 301.82,508.89 301.31,509.06 300.84,509.22 300.40,509.36 299.99,509.50 299.60,509.63 299.24,509.75 298.91,509.82 298.60,509.88 298.30,509.93 298.03,509.98 297.78,510.03 297.54,510.08 297.32,510.12 297.11,510.16 296.92,510.20 296.74,510.23 296.57,510.26 296.41,510.29 296.26,510.32 296.13,510.35 296.00,510.37 295.88,510.40 295.77,510.41 295.66,510.42 295.57,510.43 295.47,510.44 295.39,510.45 295.31,510.46 295.24,510.47 295.17,510.47 295.10,510.48 295.04,510.49 294.99,510.49 294.94,510.49 294.89,510.49 294.84,510.49 294.80,510.49 294.76,510.49 294.72,510.49 294.69,510.49 294.65,510.49 294.62,510.49 294.60,510.49 294.57,510.49 294.55,510.49 294.52,510.49 294.50,510.49 294.48,510.49 294.46,510.49 294.44,510.49 294.43,510.49 294.41,510.49 294.40,510.49 294.39,510.49 294.37,510.49 294.36,510.49 294.35,510.49 294.34,510.49 294.33,510.49 294.32,510.49 294.31,510.49 294.31,510.49 294.30,510.49 294.29,510.49 294.29,510.49 294.28,510.49 294.28,510.49 294.27,510.49 294.27,510.49 294.26,510.49 294.26,510.49 294.25,510.49" fill="none" stroke="#f02020" stroke-width="0.9" stroke-dasharray="3,2"/>
<rect x="389.00" y="326.17" width="4.6" height="4.6" fill="#000"/>
<rect x="382.55" y="327.63" width="4.6" height="4.6" fill="#000"/>
<rect x="376.52" y="337.65" width="4.6" height="4.6" fill="#000"/>
<rect x="370.90" y="348.49" width="4.6" height="4.6" fill="#000"/>
<rect x="365.65" y="358.42" width="4.6" height="4.6" fill="#000"/>
<rect x="360.74" y="371.17" width="4.6" height="4.6" fill="#000"/>
<rect x="356.17" y="383.33" width="4.6" height="4.6" fill="#000"/>
<rect x="351.90" y="397.99" width="4.6" height="4.6" fill="#000"/>
<rect x="347.91" y="410.93" width="4.6" height="4.6" fill="#000"/>
<rect x="344.19" y="421.77" width="4.6" height="4.6" fill="#000"/>
<rect x="340.71" y="429.24" width="4.6" height="4.6" fill="#000"/>
<rect x="337.47" y="439.63" width="4.6" height="4.6" fill="#000"/>
<rect x="334.44" y="450.19" width="4.6" height="4.6" fill="#000"/>
<rect x="331.61" y="456.85" width="4.6" height="4.6" fill="#000"/>
<rect x="328.97" y="462.58" width="4.6" height="4.6" fill="#000"/>
<rect x="326.51" y="470.38" width="4.6" height="4.6" fill="#000"/>
<rect x="324.21" y="475.85" width="4.6" height="4.6" fill="#000"/>
<rect x="322.06" y="481.06" width="4.6" height="4.6" fill="#000"/>
<rect x="320.05" y="486.03" width="4.6" height="4.6" fill="#000"/>
<rect x="318.18" y="490.22" width="4.6" height="4.6" fill="#000"/>
<rect x="316.44" y="491.24" width="4.6" height="4.6" fill="#000"/>
<rect x="314.81" y="493.24" width="4.6" height="4.6" fill="#000"/>
<rect x="313.28" y="494.98" width="4.6" height="4.6" fill="#000"/>
<rect x="311.86" y="496.60" width="4.6" height="4.6" fill="#000"/>
<rect x="310.53" y="498.11" width="4.6" height="4.6" fill="#000"/>
<rect x="309.30" y="499.52" width="4.6" height="4.6" fill="#000"/>
<rect x="308.14" y="500.72" width="4.6" height="4.6" fill="#000"/>
<rect x="307.06" y="501.64" width="4.6" height="4.6" fill="#000"/>
<rect x="306.05" y="502.51" width="4.6" height="4.6" fill="#000"/>
<rect x="305.11" y="503.31" width="4.6" height="4.6" fill="#000"/>
<rect x="304.23" y="504.07" width="4.6" height="4.6" fill="#000"/>
<rect x="303.41" y="504.77" width="4.6" height="4.6" fill="#000"/>
<rect x="302.65" y="505.42" width="4.6" height="4.6" fill="#000"/>
<rect x="301.93" y="505.79" width="4.6" height="4.6" fill="#000"/>
<rect x="301.27" y="506.01" width="4.6" height="4.6" fill="#000"/>
<rect x="300.64" y="506.22" width="4.6" height="4.6" fill="#000"/>
<rect x="300.06" y="506.41" width="4.6" height="4.6" fill="#000"/>
<rect x="299.52" y="506.59" width="4.6" height="4.6" fill="#000"/>
<rect x="299.01" y="506.76" width="4.6" height="4.6" fill="#000"/>
<rect x="298.54" y="506.92" width="4.6" height="4.6" fill="#000"/>
<rect x="298.10" y="507.06" width="4.6" height="4.6" fill="#000"/>
<rect x="297.69" y="507.20" width="4.6" height="4.6" fill="#000"/>
<rect x="297.30" y="507.33" width="4.6" height="4.6" fill="#000"/>
<rect x="296.94" y="507.45" width="4.6" height="4.6" fill="#000"/>
<rect x="296.61" y="507.52" width="4.6" height="4.6" fill="#000"/>
<rect x="296.30" y="507.58" width="4.6" height="4.6" fill="#000"/>
<rect x="296.00" y="507.63" width="4.6" height="4.6" fill="#000"/>
<rect x="295.73" y="507.68" width="4.6" height="4.6" fill="#000"/>
<rect x="295.48" y="507.73" width="4.6" height="4.6" fill="#000"/>
<rect x="295.24" y="507.78" width="4.6" height="4.6" fill="#000"/>
<rect x="295.02" y="507.82" width="4.6" height="4.6" fill="#000"/>
<rect x="294.81" y="507.86" width="4.6" height="4.6" fill="#000"/>
<rect x="294.62" y="507.90" width="4.6" height="4.6" fill="#000"/>
<rect x="294.44" y="507.93" width="4.6" height="4.6" fill="#000"/>
<rect x="294.27" y="507.96" width="4.6" height="4.6" fill="#000"/>
<rect x="294.11" y="507.99" width="4.6" height="4.6" fill="#000"/>
<rect x="293.96" y="508.02" width="4.6" height="4.6" fill="#000"/>
<rect x="293.83" y="508.05" width="4.6" height="4.6" fill="#000"/>
<rect x="293.70" y="508.07" width="4.6" height="4.6" fill="#000"/>
<rect x="293.58" y="508.10" width="4.6" height="4.6" fill="#000"/>
<rect x="293.47" y="508.11" width="4.6" height="4.6" fill="#000"/>
<rect x="293.36" y="508.12" width="4.6" height="4.6" fill="#000"/>
<rect x="293.27" y="508.13" width="4.6" height="4.6" fill="#000"/>
<rect x="293.17" y="508.14" width="4.6" height="4.6" fill="#000"/>
<rect x="293.09" y="508.15" width="4.6" height="4.6" fill="#000"/>
<rect x="293.01" y="508.16" width="4.6" height="4.6" fill="#000"/>
<rect x="292.94" y="508.17" width="4.6" height="4.6" fill="#000"/>
<rect x="292.87" y="508.17" width="4.6" height="4.6" fill="#000"/>
<rect x="292.80" y="508.18" width="4.6" height="4.6" fill="#000"/>
<rect x="292.74" y="508.19" width="4.6" height="4.6" fill="#000"/>
<rect x="292.69" y="508.19" width="4.6" height="4.6" fill="#000"/>
<rect x="292.64" y="508.19" width="4.6" height="4.6" fill="#000"/>
<rect x="292.59" y="508.19" width="4.6" height="4.6" fill="#000"/>
<rect x="292.54" y="508.19" width="4.6" height="4.6" fill="#000"/>
<rect x="292.50" y="508.19" width="4.6" height="4.6" fill="#000"/>
<rect x="292.46" y="508.19" width="4.6" height="4.6" fill="#000"/>
<rect x="292.42" y="508.19" width="4.6" height="4.6" fill="#000"/>
<rect x="292.39" y="508.19" width="4.6" height="4.6" fill="#000"/>
<rect x="292.35" y="508.19" width="4.6" height="4.6" fill="#000"/>
<rect x="292.32" y="508.19" width="4.6" height="4.6" fill="#000"/>
<rect x="292.30" y="508.19" width="4.6" height="4.6" fill="#000"/>
<rect x="292.27" y="508.19" width="4.6" height="4.6" fill="#000"/>
<rect x="292.25" y="508.19" width="4.6" height="4.6" fill="#000"/>
<rect x="292.22" y="508.19" width="4.6" height="4.6" fill="#000"/>
<rect x="292.20" y="508.19" width="4.6" height="4.6" fill="#000"/>
<rect x="292.18" y="508.19" width="4.6" height="4.6" fill="#000"/>
<rect x="292.16" y="508.19" width="4.6" height="4.6" fill="#000"/>
<rect x="292.14" y="508.19" width="4.6" height="4.6" fill="#000"/>
<rect x="292.13" y="508.19" width="4.6" height="4.6" fill="#000"/>
<rect x="292.11" y="508.19" width="4.6" height="4.6" fill="#000"/>
<rect x="292.10" y="508.19" width="4.6" height="4.6" fill="#000"/>
<rect x="292.09" y="508.19" width="4.6" height="4.6" fill="#000"/>
<rect x="292.07" y="508.19" width="4.6" height="4.6" fill="#000"/>
<rect x="292.06" y="508.19" width="4.6" height="4.6" fill="#000"/>
<rect x="292.05" y="508.19" width="4.6" height="4.6" fill="#000"/>
<rect x="292.04" y="508.19" width="4.6" height="4.6" fill="#000"/>
<rect x="292.03" y="508.19" width="4.6" height="4.6" fill="#000"/>
<rect x="292.02" y="508.19" width="4.6" height="4.6" fill="#000"/>
<rect x="292.01" y="508.19" width="4.6" height="4.6" fill="#000"/>
<rect x="292.01" y="508.19" width="4.6" height="4.6" fill="#000"/>
<rect x="292.00" y="508.19" width="4.6" height="4.6" fill="#000"/>
<rect x="291.99" y="508.19" width="4.6" height="4.6" fill="#000"/>
<rect x="291.99" y="508.19" width="4.6" height="4.6" fill="#000"/>
<rect x="291.98" y="508.19" width="4.6" height="4.6" fill="#000"/>
<rect x="291.98" y="508.19" width="4.6" height="4.6" fill="#000"/>
<rect x="291.97" y="508.19" width="4.6" height="4.6" fill="#000"/>
<rect x="291.97" y="508.19" width="4.6" height="4.6" fill="#000"/>
<rect x="291.96" y="508.19" width="4.6" height="4.6" fill="#000"/>
<rect x="291.96" y="508.19" width="4.6" height="4.6" fill="#000"/>
<rect x="291.95" y="508.19" width="4.6" height="4.6" fill="#000"/>
<rect x="291.90" y="508.19" width="4.6" height="4.6" fill="#000"/>
<rect x="403.21" y="528.86" width="0.19" height="0.04" fill="url(#gBar)" stroke="#505050" stroke-width="0.45"/>
<rect x="403.54" y="528.75" width="0.21" height="0.15" fill="url(#gBar)" stroke="#505050" stroke-width="0.45"/>
<rect x="403.89" y="528.62" width="0.22" height="0.28" fill="url(#gBar)" stroke="#505050" stroke-width="0.45"/>
<rect x="404.27" y="528.46" width="0.24" height="0.44" fill="url(#gBar)" stroke="#505050" stroke-width="0.45"/>
<rect x="404.67" y="528.27" width="0.26" height="0.63" fill="url(#gBar)" stroke="#505050" stroke-width="0.45"/>
<rect x="405.10" y="528.04" width="0.27" height="0.86" fill="url(#gBar)" stroke="#505050" stroke-width="0.45"/>
<rect x="405.57" y="527.76" width="0.29" height="1.14" fill="url(#gBar)" stroke="#505050" stroke-width="0.45"/>
<rect x="406.06" y="527.43" width="0.31" height="1.47" fill="url(#gBar)" stroke="#505050" stroke-width="0.45"/>
<rect x="406.59" y="527.03" width="0.34" height="1.87" fill="url(#gBar)" stroke="#505050" stroke-width="0.45"/>
<rect x="407.16" y="526.54" width="0.36" height="2.36" fill="url(#gBar)" stroke="#505050" stroke-width="0.45"/>
<rect x="407.77" y="525.96" width="0.39" height="2.94" fill="url(#gBar)" stroke="#505050" stroke-width="0.45"/>
<rect x="408.43" y="525.26" width="0.41" height="3.64" fill="url(#gBar)" stroke="#505050" stroke-width="0.45"/>
<rect x="409.13" y="524.42" width="0.44" height="4.48" fill="url(#gBar)" stroke="#505050" stroke-width="0.45"/>
<rect x="409.88" y="523.40" width="0.48" height="5.50" fill="url(#gBar)" stroke="#505050" stroke-width="0.45"/>
<rect x="410.68" y="522.17" width="0.51" height="6.73" fill="url(#gBar)" stroke="#505050" stroke-width="0.45"/>
<rect x="411.54" y="520.70" width="0.55" height="8.20" fill="url(#gBar)" stroke="#505050" stroke-width="0.45"/>
<rect x="412.46" y="518.92" width="0.58" height="9.98" fill="url(#gBar)" stroke="#505050" stroke-width="0.45"/>
<rect x="413.45" y="516.79" width="0.63" height="12.11" fill="url(#gBar)" stroke="#505050" stroke-width="0.45"/>
<rect x="414.50" y="514.21" width="0.67" height="14.69" fill="url(#gBar)" stroke="#505050" stroke-width="0.45"/>
<rect x="415.64" y="511.11" width="0.72" height="17.79" fill="url(#gBar)" stroke="#505050" stroke-width="0.45"/>
<rect x="416.85" y="507.38" width="0.77" height="21.52" fill="url(#gBar)" stroke="#505050" stroke-width="0.45"/>
<rect x="418.15" y="502.89" width="0.82" height="26.01" fill="url(#gBar)" stroke="#505050" stroke-width="0.45"/>
<rect x="419.54" y="497.48" width="0.88" height="31.42" fill="url(#gBar)" stroke="#505050" stroke-width="0.45"/>
<rect x="421.03" y="490.96" width="0.95" height="37.94" fill="url(#gBar)" stroke="#505050" stroke-width="0.45"/>
<rect x="422.63" y="483.12" width="1.01" height="45.78" fill="url(#gBar)" stroke="#505050" stroke-width="0.45"/>
<rect x="424.34" y="473.67" width="1.09" height="55.23" fill="url(#gBar)" stroke="#505050" stroke-width="0.45"/>
<rect x="426.17" y="462.30" width="1.16" height="66.60" fill="url(#gBar)" stroke="#505050" stroke-width="0.45"/>
<rect x="428.14" y="451.81" width="1.25" height="77.09" fill="url(#gBar)" stroke="#505050" stroke-width="0.45"/>
<rect x="430.24" y="463.52" width="1.33" height="65.38" fill="url(#gBar)" stroke="#505050" stroke-width="0.45"/>
<rect x="432.49" y="439.36" width="1.43" height="89.54" fill="url(#gBar)" stroke="#505050" stroke-width="0.45"/>
<rect x="434.91" y="445.46" width="1.53" height="83.44" fill="url(#gBar)" stroke="#505050" stroke-width="0.45"/>
<rect x="437.49" y="425.46" width="1.64" height="103.44" fill="url(#gBar)" stroke="#505050" stroke-width="0.45"/>
<rect x="440.26" y="416.18" width="1.76" height="112.72" fill="url(#gBar)" stroke="#505050" stroke-width="0.45"/>
<rect x="443.24" y="380.07" width="1.85" height="148.83" fill="url(#gBar)" stroke="#505050" stroke-width="0.45"/>
<rect x="446.49" y="371.29" width="1.85" height="157.61" fill="url(#gBar)" stroke="#505050" stroke-width="0.45"/>
<rect x="449.96" y="372.51" width="1.85" height="156.39" fill="url(#gBar)" stroke="#505050" stroke-width="0.45"/>
<rect x="453.68" y="407.16" width="1.85" height="121.74" fill="url(#gBar)" stroke="#505050" stroke-width="0.45"/>
<rect x="457.67" y="377.63" width="1.85" height="151.27" fill="url(#gBar)" stroke="#505050" stroke-width="0.45"/>
<rect x="461.94" y="383.24" width="1.85" height="145.66" fill="url(#gBar)" stroke="#505050" stroke-width="0.45"/>
<rect x="466.52" y="392.76" width="1.85" height="136.14" fill="url(#gBar)" stroke="#505050" stroke-width="0.45"/>
<rect x="471.42" y="394.22" width="1.85" height="134.68" fill="url(#gBar)" stroke="#505050" stroke-width="0.45"/>
<rect x="476.67" y="346.16" width="1.85" height="182.74" fill="url(#gBar)" stroke="#505050" stroke-width="0.45"/>
<rect x="482.30" y="370.56" width="1.85" height="158.34" fill="url(#gBar)" stroke="#505050" stroke-width="0.45"/>
<rect x="488.32" y="446.20" width="1.85" height="82.70" fill="url(#gBar)" stroke="#505050" stroke-width="0.45"/>
<polyline points="400.93,500.60 401.27,500.60 401.60,500.60 401.93,500.60 402.27,500.60 402.60,500.59 402.93,500.59 403.27,500.59 403.60,500.59 403.93,500.59 404.27,500.59 404.60,500.58 404.93,500.58 405.27,500.58 405.60,500.58 405.93,500.57 406.27,500.57 406.60,500.57 406.93,500.57 407.27,500.56 407.60,500.56 407.93,500.55 408.27,500.55 408.60,500.54 408.93,500.54 409.27,500.53 409.60,500.53 409.93,500.52 410.27,500.51 410.60,500.51 410.93,500.50 411.27,500.49 411.60,500.48 411.93,500.47 412.27,500.46 412.60,500.45 412.93,500.44 413.27,500.42 413.60,500.41 413.93,500.39 414.27,500.38 414.60,500.36 414.93,500.34 415.27,500.32 415.60,500.30 415.93,500.28 416.27,500.25 416.60,500.23 416.93,500.20 417.27,500.17 417.60,500.14 417.93,500.11 418.27,500.07 418.60,500.04 418.93,500.00 419.27,499.96 419.60,499.91 419.93,499.86 420.27,499.81 420.60,499.76 420.93,499.70 421.27,499.64 421.60,499.58 421.93,499.51 422.27,499.44 422.60,499.37 422.93,499.29 423.27,499.21 423.60,499.12 423.93,499.03 424.27,498.93 424.60,498.82 424.93,498.71 425.27,498.60 425.60,498.48 425.93,498.35 426.27,498.22 426.60,498.08 426.93,497.93 427.27,497.77 427.60,497.61 427.93,497.44 428.27,497.26 428.60,497.07 428.93,496.87 429.27,496.66 429.60,496.45 429.93,496.22 430.27,495.98 430.60,495.74 430.93,495.48 431.27,495.21 431.60,494.92 431.93,494.63 432.27,494.32 432.60,494.00 432.93,493.66 433.27,493.32 433.60,492.95 433.93,492.58 434.27,492.18 434.60,491.78 434.93,491.35 435.27,490.91 435.60,490.46 435.93,489.98 436.27,489.49 436.60,488.98 436.93,488.45 437.27,487.91 437.60,487.34 437.93,486.76 438.27,486.16 438.60,485.53 438.93,484.89 439.27,484.22 439.60,483.54 439.93,482.83 440.27,482.10 440.60,481.35 440.93,480.57 441.27,479.78 441.60,478.96 441.93,478.12 442.27,477.26 442.60,476.37 442.93,475.46 443.27,474.53 443.60,473.57 443.93,472.59 444.27,471.59 444.60,470.56 444.93,469.51 445.27,468.43 445.60,467.34 445.93,466.22 446.27,465.07 446.60,463.91 446.93,462.72 447.27,461.51 447.60,460.28 447.93,459.02 448.27,457.75 448.60,456.45 448.93,455.14 449.27,453.80 449.60,452.45 449.93,451.08 450.27,449.68 450.60,448.28 450.93,446.85 451.27,445.41 451.60,443.95 451.93,442.48 452.27,441.00 452.60,439.51 452.93,438.00 453.27,436.48 453.60,434.95 453.93,433.42 454.27,431.88 454.60,430.33 454.93,428.77 455.27,427.22 455.60,425.66 455.93,424.10 456.27,422.53 456.60,420.97 456.93,419.42 457.27,417.86 457.60,416.32 457.93,414.77 458.27,413.24 458.60,411.72 458.93,410.21 459.27,408.71 459.60,407.22 459.93,405.75 460.27,404.30 460.60,402.86 460.93,401.45 461.27,400.06 461.60,398.69 461.93,397.34 462.27,396.02 462.60,394.73 462.93,393.46 463.27,392.23 463.60,391.03 463.93,389.86 464.27,388.72 464.60,387.62 464.93,386.55 465.27,385.53 465.60,384.54 465.93,383.60 466.27,382.69 466.60,381.83 466.93,381.01 467.27,380.23 467.60,379.51 467.93,378.82 468.27,378.19 468.60,377.60 468.93,377.06 469.27,376.57 469.60,376.13 469.93,375.74 470.27,375.40 470.60,375.12 470.93,374.88 471.27,374.70 471.60,374.57 471.93,374.49 472.27,374.46 472.60,374.49 472.93,374.57 473.27,374.70 473.60,374.88 473.93,375.12 474.27,375.40 474.60,375.74 474.93,376.13 475.27,376.57 475.60,377.06 475.93,377.60 476.27,378.19 476.60,378.82 476.93,379.51 477.27,380.23 477.60,381.01 477.93,381.83 478.27,382.69 478.60,383.60 478.93,384.54 479.27,385.53 479.60,386.55 479.93,387.62 480.27,388.72 480.60,389.86 480.93,391.03 481.27,392.23 481.60,393.46 481.93,394.73 482.27,396.02 482.60,397.34 482.93,398.69 483.27,400.06 483.60,401.45 483.93,402.86 484.27,404.30 484.60,405.75 484.93,407.22 485.27,408.71 485.60,410.21 485.93,411.72 486.27,413.24 486.60,414.77 486.93,416.32 487.27,417.86 487.60,419.42 487.93,420.97 488.27,422.53 488.60,424.10 488.93,425.66 489.27,427.22 489.60,428.77 489.93,430.33 490.27,431.88 490.60,433.42 490.93,434.95 491.27,436.48 491.60,438.00 491.93,439.51 492.27,441.00 492.60,442.48 492.93,443.95 493.27,445.41 493.60,446.85 493.93,448.28 494.27,449.68 494.60,451.08 494.93,452.45 495.27,453.80 495.60,455.14 495.93,456.45" fill="none" stroke="#f02020" stroke-width="1.0"/>
<polyline points="495.70,328.29 489.25,334.50 483.22,346.36 477.60,360.05 472.35,370.14 467.44,380.34 462.87,391.26 458.60,402.59 454.61,411.72 450.89,423.43 447.41,435.24 444.17,446.39 441.14,454.85 438.31,462.61 435.67,468.87 433.21,475.60 430.91,480.52 428.76,486.31 426.75,491.32 424.88,493.18 423.14,494.77 421.51,496.44 419.98,497.90 418.56,499.10 417.23,500.23 416.00,501.29 414.84,502.27 413.76,503.10 412.75,503.85 411.81,504.56 410.93,505.21 410.11,505.83 409.35,506.40 408.63,506.93 407.97,507.34 407.34,507.61 406.76,507.85 406.22,508.09 405.71,508.31 405.24,508.51 404.80,508.70 404.39,508.88 404.00,509.04 403.64,509.19 403.31,509.31 403.00,509.41 402.70,509.51 402.43,509.60 402.18,509.68 401.94,509.76 401.72,509.83 401.51,509.90 401.32,509.96 401.14,510.02 400.97,510.08 400.81,510.13 400.66,510.18 400.53,510.22 400.40,510.26 400.28,510.30 400.17,510.32 400.06,510.34 399.97,510.36 399.87,510.37 399.79,510.38 399.71,510.40 399.64,510.41 399.57,510.42 399.50,510.43 399.44,510.44 399.39,510.45 399.34,510.46 399.29,510.47 399.24,510.48 399.20,510.48 399.16,510.49 399.12,510.49 399.09,510.49 399.05,510.49 399.02,510.49 399.00,510.49 398.97,510.49 398.95,510.49 398.92,510.49 398.90,510.49 398.88,510.49 398.86,510.49 398.84,510.49 398.83,510.49 398.81,510.49 398.80,510.49 398.79,510.49 398.77,510.49 398.76,510.49 398.75,510.49 398.74,510.49 398.73,510.49 398.72,510.49 398.71,510.49 398.71,510.49 398.70,510.49 398.69,510.49 398.69,510.49 398.68,510.49 398.68,510.49 398.67,510.49 398.67,510.49 398.66,510.49 398.66,510.49 398.65,510.49" fill="none" stroke="#f02020" stroke-width="0.9" stroke-dasharray="3,2"/>
<rect x="493.40" y="325.99" width="4.6" height="4.6" fill="#000"/>
<rect x="486.95" y="332.20" width="4.6" height="4.6" fill="#000"/>
<rect x="480.92" y="344.06" width="4.6" height="4.6" fill="#000"/>
<rect x="475.30" y="357.75" width="4.6" height="4.6" fill="#000"/>
<rect x="470.05" y="367.84" width="4.6" height="4.6" fill="#000"/>
<rect x="465.14" y="378.04" width="4.6" height="4.6" fill="#000"/>
<rect x="460.57" y="388.96" width="4.6" height="4.6" fill="#000"/>
<rect x="456.30" y="400.29" width="4.6" height="4.6" fill="#000"/>
<rect x="452.31" y="409.42" width="4.6" height="4.6" fill="#000"/>
<rect x="448.59" y="421.13" width="4.6" height="4.6" fill="#000"/>
<rect x="445.11" y="432.94" width="4.6" height="4.6" fill="#000"/>
<rect x="441.87" y="444.09" width="4.6" height="4.6" fill="#000"/>
<rect x="438.84" y="452.55" width="4.6" height="4.6" fill="#000"/>
<rect x="436.01" y="460.31" width="4.6" height="4.6" fill="#000"/>
<rect x="433.37" y="466.57" width="4.6" height="4.6" fill="#000"/>
<rect x="430.91" y="473.30" width="4.6" height="4.6" fill="#000"/>
<rect x="428.61" y="478.22" width="4.6" height="4.6" fill="#000"/>
<rect x="426.46" y="484.01" width="4.6" height="4.6" fill="#000"/>
<rect x="424.45" y="489.02" width="4.6" height="4.6" fill="#000"/>
<rect x="422.58" y="490.88" width="4.6" height="4.6" fill="#000"/>
<rect x="420.84" y="492.47" width="4.6" height="4.6" fill="#000"/>
<rect x="419.21" y="494.14" width="4.6" height="4.6" fill="#000"/>
<rect x="417.68" y="495.60" width="4.6" height="4.6" fill="#000"/>
<rect x="416.26" y="496.80" width="4.6" height="4.6" fill="#000"/>
<rect x="414.93" y="497.93" width="4.6" height="4.6" fill="#000"/>
<rect x="413.70" y="498.99" width="4.6" height="4.6" fill="#000"/>
<rect x="412.54" y="499.97" width="4.6" height="4.6" fill="#000"/>
<rect x="411.46" y="500.80" width="4.6" height="4.6" fill="#000"/>
<rect x="410.45" y="501.55" width="4.6" height="4.6" fill="#000"/>
<rect x="409.51" y="502.26" width="4.6" height="4.6" fill="#000"/>
<rect x="408.63" y="502.91" width="4.6" height="4.6" fill="#000"/>
<rect x="407.81" y="503.53" width="4.6" height="4.6" fill="#000"/>
<rect x="407.05" y="504.10" width="4.6" height="4.6" fill="#000"/>
<rect x="406.33" y="504.63" width="4.6" height="4.6" fill="#000"/>
<rect x="405.67" y="505.04" width="4.6" height="4.6" fill="#000"/>
<rect x="405.04" y="505.31" width="4.6" height="4.6" fill="#000"/>
<rect x="404.46" y="505.55" width="4.6" height="4.6" fill="#000"/>
<rect x="403.92" y="505.79" width="4.6" height="4.6" fill="#000"/>
<rect x="403.41" y="506.01" width="4.6" height="4.6" fill="#000"/>
<rect x="402.94" y="506.21" width="4.6" height="4.6" fill="#000"/>
<rect x="402.50" y="506.40" width="4.6" height="4.6" fill="#000"/>
<rect x="402.09" y="506.58" width="4.6" height="4.6" fill="#000"/>
<rect x="401.70" y="506.74" width="4.6" height="4.6" fill="#000"/>
<rect x="401.34" y="506.89" width="4.6" height="4.6" fill="#000"/>
<rect x="401.01" y="507.01" width="4.6" height="4.6" fill="#000"/>
<rect x="400.70" y="507.11" width="4.6" height="4.6" fill="#000"/>
<rect x="400.40" y="507.21" width="4.6" height="4.6" fill="#000"/>
<rect x="400.13" y="507.30" width="4.6" height="4.6" fill="#000"/>
<rect x="399.88" y="507.38" width="4.6" height="4.6" fill="#000"/>
<rect x="399.64" y="507.46" width="4.6" height="4.6" fill="#000"/>
<rect x="399.42" y="507.53" width="4.6" height="4.6" fill="#000"/>
<rect x="399.21" y="507.60" width="4.6" height="4.6" fill="#000"/>
<rect x="399.02" y="507.66" width="4.6" height="4.6" fill="#000"/>
<rect x="398.84" y="507.72" width="4.6" height="4.6" fill="#000"/>
<rect x="398.67" y="507.78" width="4.6" height="4.6" fill="#000"/>
<rect x="398.51" y="507.83" width="4.6" height="4.6" fill="#000"/>
<rect x="398.36" y="507.88" width="4.6" height="4.6" fill="#000"/>
<rect x="398.23" y="507.92" width="4.6" height="4.6" fill="#000"/>
<rect x="398.10" y="507.96" width="4.6" height="4.6" fill="#000"/>
<rect x="397.98" y="508.00" width="4.6" height="4.6" fill="#000"/>
<rect x="397.87" y="508.02" width="4.6" height="4.6" fill="#000"/>
<rect x="397.76" y="508.04" width="4.6" height="4.6" fill="#000"/>
<rect x="397.67" y="508.06" width="4.6" height="4.6" fill="#000"/>
<rect x="397.57" y="508.07" width="4.6" height="4.6" fill="#000"/>
<rect x="397.49" y="508.08" width="4.6" height="4.6" fill="#000"/>
<rect x="397.41" y="508.10" width="4.6" height="4.6" fill="#000"/>
<rect x="397.34" y="508.11" width="4.6" height="4.6" fill="#000"/>
<rect x="397.27" y="508.12" width="4.6" height="4.6" fill="#000"/>
<rect x="397.20" y="508.13" width="4.6" height="4.6" fill="#000"/>
<rect x="397.14" y="508.14" width="4.6" height="4.6" fill="#000"/>
<rect x="397.09" y="508.15" width="4.6" height="4.6" fill="#000"/>
<rect x="397.04" y="508.16" width="4.6" height="4.6" fill="#000"/>
<rect x="396.99" y="508.17" width="4.6" height="4.6" fill="#000"/>
<rect x="396.94" y="508.18" width="4.6" height="4.6" fill="#000"/>
<rect x="396.90" y="508.18" width="4.6" height="4.6" fill="#000"/>
<rect x="396.86" y="508.19" width="4.6" height="4.6" fill="#000"/>
<rect x="396.82" y="508.19" width="4.6" height="4.6" fill="#000"/>
<rect x="396.79" y="508.19" width="4.6" height="4.6" fill="#000"/>
<rect x="396.75" y="508.19" width="4.6" height="4.6" fill="#000"/>
<rect x="396.72" y="508.19" width="4.6" height="4.6" fill="#000"/>
<rect x="396.70" y="508.19" width="4.6" height="4.6" fill="#000"/>
<rect x="396.67" y="508.19" width="4.6" height="4.6" fill="#000"/>
<rect x="396.65" y="508.19" width="4.6" height="4.6" fill="#000"/>
<rect x="396.62" y="508.19" width="4.6" height="4.6" fill="#000"/>
<rect x="396.60" y="508.19" width="4.6" height="4.6" fill="#000"/>
<rect x="396.58" y="508.19" width="4.6" height="4.6" fill="#000"/>
<rect x="396.56" y="508.19" width="4.6" height="4.6" fill="#000"/>
<rect x="396.54" y="508.19" width="4.6" height="4.6" fill="#000"/>
<rect x="396.53" y="508.19" width="4.6" height="4.6" fill="#000"/>
<rect x="396.51" y="508.19" width="4.6" height="4.6" fill="#000"/>
<rect x="396.50" y="508.19" width="4.6" height="4.6" fill="#000"/>
<rect x="396.49" y="508.19" width="4.6" height="4.6" fill="#000"/>
<rect x="396.47" y="508.19" width="4.6" height="4.6" fill="#000"/>
<rect x="396.46" y="508.19" width="4.6" height="4.6" fill="#000"/>
<rect x="396.45" y="508.19" width="4.6" height="4.6" fill="#000"/>
<rect x="396.44" y="508.19" width="4.6" height="4.6" fill="#000"/>
<rect x="396.43" y="508.19" width="4.6" height="4.6" fill="#000"/>
<rect x="396.42" y="508.19" width="4.6" height="4.6" fill="#000"/>
<rect x="396.41" y="508.19" width="4.6" height="4.6" fill="#000"/>
<rect x="396.41" y="508.19" width="4.6" height="4.6" fill="#000"/>
<rect x="396.40" y="508.19" width="4.6" height="4.6" fill="#000"/>
<rect x="396.39" y="508.19" width="4.6" height="4.6" fill="#000"/>
<rect x="396.39" y="508.19" width="4.6" height="4.6" fill="#000"/>
<rect x="396.38" y="508.19" width="4.6" height="4.6" fill="#000"/>
<rect x="396.38" y="508.19" width="4.6" height="4.6" fill="#000"/>
<rect x="396.37" y="508.19" width="4.6" height="4.6" fill="#000"/>
<rect x="396.37" y="508.19" width="4.6" height="4.6" fill="#000"/>
<rect x="396.36" y="508.19" width="4.6" height="4.6" fill="#000"/>
<rect x="396.36" y="508.19" width="4.6" height="4.6" fill="#000"/>
<rect x="396.35" y="508.19" width="4.6" height="4.6" fill="#000"/>
<rect x="396.30" y="508.19" width="4.6" height="4.6" fill="#000"/>
</g>
<rect x="190.0" y="309.8" width="312.7" height="219.09999999999997" fill="none" stroke="#000" stroke-width="1.7"/>
<line x1="293.90" y1="309.80" x2="293.90" y2="528.90" stroke="#000" stroke-width="1.7" />
<line x1="398.40" y1="309.80" x2="398.40" y2="528.90" stroke="#000" stroke-width="1.7" />
</svg></body></html>
